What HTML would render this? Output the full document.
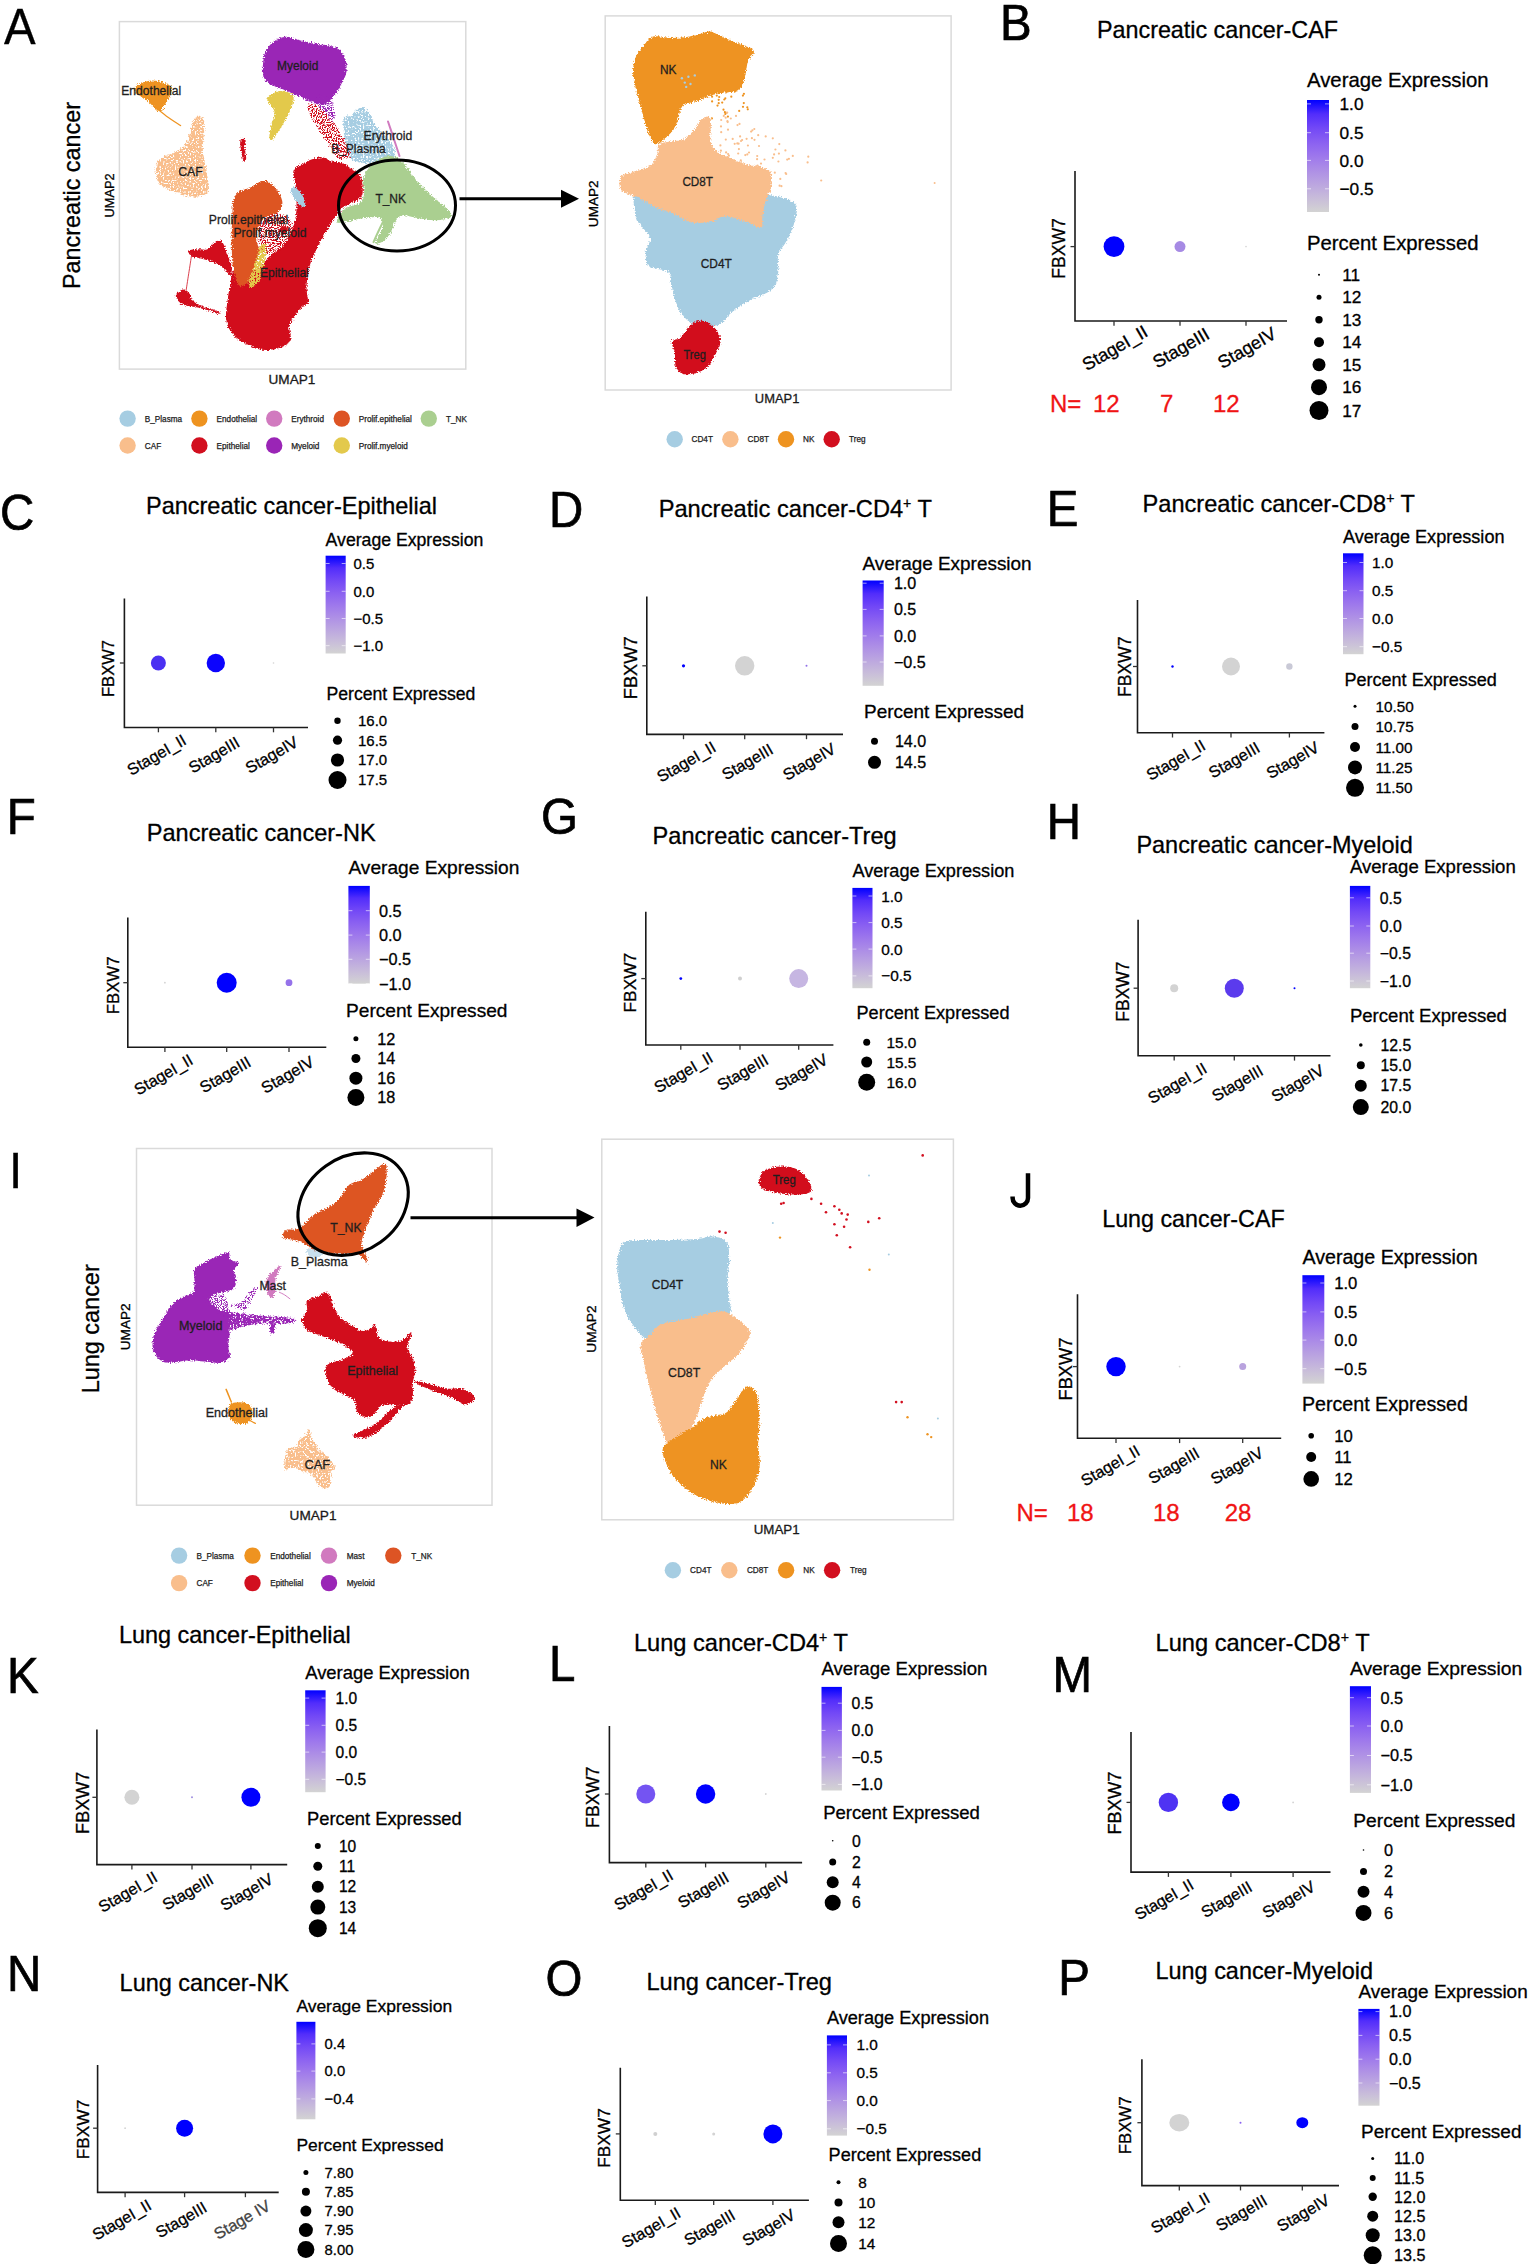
<!DOCTYPE html>
<html><head><meta charset="utf-8"><style>
html,body{margin:0;padding:0;background:#fff;}
svg{display:block;font-family:"Liberation Sans",sans-serif;}
</style></head><body>
<svg width="1530" height="2264" viewBox="0 0 1530 2264">
<defs><filter id="rough" x="-10%" y="-10%" width="120%" height="120%"><feTurbulence type="fractalNoise" baseFrequency="0.7" numOctaves="2" seed="5" result="n"/><feDisplacementMap in="SourceGraphic" in2="n" scale="5" xChannelSelector="R" yChannelSelector="G"/></filter><filter id="speck" x="-10%" y="-10%" width="120%" height="120%"><feTurbulence type="fractalNoise" baseFrequency="0.7" numOctaves="2" seed="5" result="n"/><feDisplacementMap in="SourceGraphic" in2="n" scale="5" xChannelSelector="R" yChannelSelector="G" result="d"/><feTurbulence type="fractalNoise" baseFrequency="0.6" numOctaves="1" seed="9" result="t"/><feColorMatrix in="t" type="matrix" values="0 0 0 0 0 0 0 0 0 0 0 0 0 0 0 0 0 0 -9 5.9" result="m"/><feComposite in="d" in2="m" operator="in"/></filter><filter id="sparse" x="-10%" y="-10%" width="120%" height="120%"><feTurbulence type="fractalNoise" baseFrequency="0.7" numOctaves="2" seed="5" result="n"/><feDisplacementMap in="SourceGraphic" in2="n" scale="5" xChannelSelector="R" yChannelSelector="G" result="d"/><feTurbulence type="fractalNoise" baseFrequency="0.8" numOctaves="1" seed="13" result="t"/><feColorMatrix in="t" type="matrix" values="0 0 0 0 0 0 0 0 0 0 0 0 0 0 0 0 0 0 -12 6.4" result="m"/><feComposite in="d" in2="m" operator="in"/></filter><linearGradient id="grad" x1="0" y1="0" x2="0" y2="1"><stop offset="0.000" stop-color="#0000ff"/><stop offset="0.125" stop-color="#522dfb"/><stop offset="0.250" stop-color="#7248f6"/><stop offset="0.375" stop-color="#8a60f1"/><stop offset="0.500" stop-color="#9d77ec"/><stop offset="0.625" stop-color="#ad8ee6"/><stop offset="0.750" stop-color="#bba5e0"/><stop offset="0.875" stop-color="#c8bcda"/><stop offset="1.000" stop-color="#d3d3d3"/></linearGradient></defs>
<rect width="1530" height="2264" fill="#fff"/>
<rect x="119.4" y="21.6" width="346.4" height="347.5" fill="none" stroke="#dadada" stroke-width="1.5"/>
<path d="M155.9 165.6C156.5 162.1 158 160.5 160.6 158.5C163.1 156.6 167.8 155.4 171.2 153.8C174.5 152.3 177.8 151.5 180.6 149.1C183.3 146.8 185.9 143.2 187.6 139.7C189.4 136.2 190 131.5 191.2 127.9C192.4 124.4 193.1 120.6 194.7 118.5C196.3 116.5 198.9 114.9 200.6 115.7C202.2 116.5 204.1 119.6 204.6 123.2C205.1 126.8 203.9 132.6 203.6 137.4C203.4 142.1 202.7 147.2 202.9 151.5C203.2 155.8 204.5 158.9 205.3 163.2C206.1 167.5 207.1 173 207.6 177.4C208.2 181.7 209.4 186.2 208.8 189.1C208.2 192.1 207.3 193.7 204.1 195C201 196.3 194.7 197.2 190 196.6C185.3 196.1 180.2 193.5 175.9 191.9C171.6 190.4 167.3 189.3 164.1 187.2C161 185.2 158.4 183.3 157.1 179.7C155.7 176.1 155.3 169.1 155.9 165.6Z" fill="#f9be8c" filter="url(#speck)" />
<path d="M134.7 87.9C135.6 86.4 137.6 84.5 140.6 83.2C143.5 82 148.4 80.5 152.4 80.4C156.3 80.3 160.9 81.5 164.1 82.8C167.3 84 170.8 85.5 171.6 87.9C172.5 90.4 170.5 94.5 169.3 97.4C168.1 100.2 166 102.5 164.6 104.9C163.1 107.2 162.2 111 160.6 111.5C158.9 112 156.9 109.7 154.7 107.9C152.5 106.2 150 102.8 147.6 100.9C145.3 98.9 142.6 97.5 140.6 96.2C138.5 94.8 136.4 94 135.4 92.6C134.4 91.3 133.8 89.5 134.7 87.9Z" fill="#ee9320" filter="url(#rough)" />
<path d="M154.7 106.8C156.7 108.3 162.2 113 166.5 116.2C170.8 119.3 178.2 124 180.6 125.6" fill="none" stroke="#ee9320" stroke-width="1.2" stroke-linecap="round"/>
<path d="M262.9 65.4C263.2 60.9 263.9 55.1 265.8 51.1C267.7 47 271.1 43.4 274.4 41C277.8 38.6 282.1 36.9 285.9 36.7C289.8 36.5 293.1 38.5 297.4 39.6C301.8 40.6 306.8 42.2 311.8 43.2C316.9 44.1 323.1 44.2 327.6 45.3C332.2 46.4 336.1 47.2 339.1 49.6C342.1 52 344.4 55.9 345.6 59.7C346.8 63.5 346.9 68.8 346.3 72.6C345.7 76.5 343.7 79.3 342 82.7C340.3 86.1 338.2 89.9 336.3 92.8C334.4 95.6 332.9 98 330.5 100C328.1 101.9 325.2 104 321.9 104.3C318.5 104.5 314.5 102.8 310.4 101.4C306.3 100 301.8 97.6 297.4 95.6C293.1 93.7 288.6 91.6 284.5 89.9C280.4 88.2 276.4 87.5 273 85.6C269.7 83.7 266.1 81.7 264.4 78.4C262.7 75 262.7 70 262.9 65.4Z" fill="#9a25b6" filter="url(#rough)" />
<path d="M317.6 95.6C319.3 93.7 327.6 95.2 330.5 98.5C333.4 101.9 334.8 111.9 334.8 115.8C334.8 119.6 332.9 122.5 330.5 121.5C328.1 120.6 322.6 114.3 320.5 110C318.3 105.7 315.9 97.6 317.6 95.6Z" fill="#9a25b6" filter="url(#sparse)" />
<path d="M267.3 100C267.3 96.8 271.8 94.2 274.4 92.8C277.1 91.3 280 90.8 283.1 91.3C286.2 91.8 291.7 93 293.1 95.6C294.6 98.3 293.1 102.8 291.7 107.1C290.3 111.5 286.9 117.2 284.5 121.5C282.1 125.8 279.5 129.9 277.3 133C275.2 136.1 272.9 139.7 271.6 140.2C270.2 140.7 269.4 138.5 269.4 135.9C269.4 133.3 270.7 128.5 271.6 124.4C272.4 120.3 275.2 115.5 274.4 111.5C273.7 107.4 267.3 103.1 267.3 100Z" fill="#e3c94c" filter="url(#rough)" />
<path d="M343.5 118.6C344.4 114.6 347.8 117.7 350.6 115.8C353.5 113.9 357.6 107.6 360.7 107.1C363.8 106.7 366.9 110 369.3 112.9C371.7 115.8 372.7 120.8 375.1 124.4C377.5 128 380.8 131.1 383.7 134.5C386.6 137.8 390.4 140.9 392.3 144.5C394.3 148.1 396.2 153.2 395.2 156C394.3 158.9 390.4 160.6 386.6 161.8C382.8 163 377.2 163.2 372.2 163.2C367.2 163.2 360.5 163.2 356.4 161.8C352.3 160.3 349.7 158.2 347.8 154.6C345.9 151 345.6 146.2 344.9 140.2C344.2 134.2 342.5 122.7 343.5 118.6Z" fill="#a6cde2" filter="url(#speck)" />
<path d="M388 121.5C389 124.4 391.9 133 393.8 138.8C395.7 144.5 398.6 153.2 399.5 156" fill="none" stroke="#d17abf" stroke-width="2" stroke-linecap="round"/>
<path d="M336.4 221.6C336.7 219.2 341.5 211.5 345.3 208.4C349.1 205.4 356.3 205.7 359.4 203.2C362.5 200.8 363.5 197.7 364.1 193.8C364.7 189.9 362.2 184 362.9 179.7C363.7 175.4 365.9 171.5 368.8 167.9C371.8 164.4 376.7 160.5 380.6 158.5C384.5 156.6 388.4 155.3 392.4 156.2C396.3 157 400.2 159.8 404.1 163.7C408 167.6 411.2 174.3 415.9 179.7C420.6 185.1 426.9 191.1 432.4 196.2C437.8 201.3 445.8 206.8 448.8 210.3C451.8 213.8 452.6 215.7 450.2 217.4C447.9 219 440.4 220.1 434.7 220.2C429 220.3 421.4 218.6 415.9 217.8C410.4 217 405.3 214.7 401.8 215.5C398.2 216.3 396.7 219.5 394.7 222.5C392.7 225.6 392 230.7 390 233.8C388 237 385.4 239.9 382.9 241.4C380.5 242.8 375.4 245.2 375.4 242.8C375.4 240.3 382.2 230.9 382.9 226.8C383.7 222.6 382.5 219.4 380.1 217.8C377.8 216.3 373.1 217 368.8 217.4C364.6 217.7 359 218.8 354.7 219.7C350.4 220.6 346 222.2 342.9 222.5C339.9 222.8 336 223.9 336.4 221.6Z" fill="#aacf90" filter="url(#rough)" />
<path d="M373.5 242.1C374.7 239.5 378.2 231.7 380.6 226.8C382.9 221.9 386.5 215 387.6 212.6" fill="none" stroke="#aacf90" stroke-width="2" stroke-linecap="round"/>
<path d="M307.5 104.3C309 102.8 315.2 104.7 319 107.1C322.8 109.5 326.7 113.9 330.5 118.6C334.4 123.4 339.1 131.1 342 135.9C344.9 140.7 346.3 144 347.8 147.4C349.2 150.8 352.1 154.1 350.6 156C349.2 157.9 342.5 160.3 339.1 158.9C335.8 157.5 333.9 152.2 330.5 147.4C327.2 142.6 322.4 135.4 319 130.1C315.7 124.9 312.3 120.1 310.4 115.8C308.5 111.5 306.1 105.7 307.5 104.3Z" fill="#d20f1f" filter="url(#sparse)" />
<path d="M293.7 170.2C295.1 166.8 300.4 164.9 303.7 163C307.1 161.1 310.7 159.7 313.8 158.7C316.9 157.7 319.3 156.8 322.4 157.3C325.5 157.7 329.1 160.6 332.5 161.6C335.8 162.5 339.4 161.8 342.5 163C345.7 164.2 348.3 166.8 351.2 168.8C354 170.7 357.9 171.6 359.8 174.5C361.7 177.4 362.4 182.2 362.7 186C362.9 189.8 363.1 194.6 361.2 197.5C359.3 200.4 354.3 201.6 351.2 203.3C348 204.9 344.9 205.7 342.5 207.6C340.1 209.5 338.7 212.1 336.8 214.8C334.9 217.4 333 220.3 331 223.4C329.1 226.5 327.2 230.1 325.3 233.5C323.4 236.8 321.4 239.9 319.5 243.5C317.6 247.1 315.5 251.2 313.8 255C312.1 258.9 310.5 262.7 309.5 266.5C308.4 270.4 307.8 274.2 307.3 278C306.8 281.9 306.5 285.5 306.6 289.5C306.7 293.6 308.7 299.6 308 302.5C307.3 305.3 304.7 304.4 302.3 306.8C299.9 309.2 295.8 313.5 293.7 316.9C291.5 320.2 289.8 323.3 289.3 326.9C288.9 330.5 291.5 335.3 290.8 338.4C290.1 341.5 288.4 343.7 285 345.6C281.7 347.5 275.4 349.4 270.6 349.9C265.9 350.4 261.1 349.9 256.3 348.5C251.5 347 246 343.9 241.9 341.3C237.8 338.7 234.5 336.3 231.8 332.7C229.2 329.1 226.8 325 226.1 319.7C225.4 314.5 226.8 307 227.5 301C228.2 295 229.2 289.1 230.4 283.8C231.6 278.5 230.4 271.8 234.7 269.4C239 267 250.3 271.8 256.3 269.4C262.3 267 265.9 259.3 270.6 255C275.4 250.7 281 249.3 285 243.5C289.1 237.8 293.2 228.2 295.1 220.5C297 212.8 296.5 203.7 296.5 197.5C296.5 191.3 295.6 187.7 295.1 183.1C294.6 178.6 292.2 173.5 293.7 170.2Z" fill="#d20f1f" filter="url(#rough)" />
<path d="M262 211.9C264.4 208.5 269.2 210.9 273.5 211.9C277.8 212.8 284.8 214.3 287.9 217.6C291 221 293.7 226.7 292.2 232C290.8 237.3 284.3 245.9 279.3 249.3C274.2 252.6 265.4 255 262 252.1C258.7 249.3 259.1 238.7 259.1 232C259.1 225.3 259.6 215.2 262 211.9Z" fill="#d20f1f" filter="url(#sparse)" />
<path d="M188.7 250.7C189.9 249.5 195.6 249.5 198.8 249.3C201.9 249 204.3 250.7 207.4 249.3C210.5 247.8 214.8 241.6 217.4 240.6C220.1 239.7 221.5 241.1 223.2 243.5C224.9 245.9 226.1 251.2 227.5 255C229 258.9 231.3 263.2 231.8 266.5C232.3 269.9 231.6 274.7 230.4 275.2C229.2 275.6 226.8 271.3 224.6 269.4C222.5 267.5 220.1 265.1 217.4 263.7C214.8 262.2 211.9 261.7 208.8 260.8C205.7 259.8 201.6 258.6 198.8 257.9C195.9 257.2 193.2 257.7 191.6 256.5C189.9 255.3 187.5 251.9 188.7 250.7Z" fill="#d20f1f" filter="url(#rough)" />
<path d="M191.6 255C191.1 258.1 189.7 267.5 188.7 273.7C187.7 279.9 186.3 289.3 185.8 292.4" fill="none" stroke="#d20f1f" stroke-width="0.8" stroke-linecap="round"/>
<path d="M175.8 295.3C176 292.9 180.8 290 182.9 289.5C185.1 289.1 187 290.5 188.7 292.4C190.4 294.3 190.4 298.6 193 301C195.6 303.4 200.4 305.1 204.5 306.8C208.6 308.5 215.1 309.9 217.4 311.1C219.8 312.3 220.8 314.2 218.9 314C217 313.7 210.3 310.9 205.9 309.7C201.6 308.5 197.1 307.7 193 306.8C188.9 305.8 184.4 305.8 181.5 303.9C178.6 302 175.5 297.7 175.8 295.3Z" fill="#d20f1f" filter="url(#rough)" />
<path d="M240.5 140C241.2 138.1 244.8 138.6 245.5 140C246.2 141.4 244.6 145.5 244.8 148.6C244.9 151.7 246.4 156.8 246.2 158.7C246 160.6 244.2 161.3 243.3 160.1C242.5 158.9 241.7 154.9 241.2 151.5C240.7 148.1 239.7 141.9 240.5 140Z" fill="#d20f1f" filter="url(#rough)" />
<path d="M233.3 200.4C234.3 197 236.1 193.9 239 191.8C241.9 189.6 247.2 189.1 250.5 187.4C253.9 185.8 256.3 182.7 259.1 181.7C262 180.7 264.9 180.5 267.8 181.7C270.6 182.9 274 185.8 276.4 188.9C278.8 192 281.4 197 282.1 200.4C282.9 203.7 282.1 206.6 280.7 209C279.3 211.4 276.2 213.3 273.5 214.8C270.9 216.2 267.3 215.7 264.9 217.6C262.5 219.6 260.6 222.4 259.1 226.3C257.7 230.1 256.3 236.8 256.3 240.6C256.3 244.5 259.1 245.7 259.1 249.3C259.1 252.9 257.7 257.7 256.3 262.2C254.8 266.8 252.2 273 250.5 276.6C248.8 280.2 248.1 282.3 246.2 283.8C244.3 285.2 241.2 287.6 239 285.2C236.9 282.8 234.5 275.4 233.3 269.4C232.1 263.4 232.1 256.5 231.8 249.3C231.6 242.1 231.7 232.5 231.8 226.3C231.9 220 232.3 216.2 232.5 211.9C232.8 207.6 232.2 203.7 233.3 200.4Z" fill="#dd5424" filter="url(#rough)" />
<path d="M247.6 283.8C247.6 280.9 251.7 274.2 253.4 269.4C255.1 264.6 256.5 259.1 257.7 255C258.9 251 259.1 246.4 260.6 245C262 243.5 265.6 243.5 266.3 246.4C267.1 249.3 265.9 256.9 264.9 262.2C263.9 267.5 262.5 274 260.6 278C258.7 282.1 255.5 285.7 253.4 286.7C251.2 287.6 247.6 286.7 247.6 283.8Z" fill="#e3c94c" filter="url(#speck)" />
<path d="M279.3 229.1C279.8 227.9 283.6 226 285 226.3C286.5 226.5 288.4 229.4 287.9 230.6C287.4 231.8 283.6 233.7 282.1 233.5C280.7 233.2 278.8 230.3 279.3 229.1Z" fill="#d20f1f" filter="url(#rough)" />
<path d="M290.8 190.3C291.3 188.6 294.4 186.2 296.5 187.4C298.7 188.6 302.3 194.4 303.7 197.5C305.2 200.6 305.6 204.7 305.2 206.1C304.7 207.6 302.8 207.6 300.8 206.1C298.9 204.7 295.3 200.1 293.7 197.5C292 194.9 290.3 192 290.8 190.3Z" fill="#a6cde2" filter="url(#rough)" />
<text x="277.1" y="70.3" font-size="12.5" fill="#1e1e1e" textLength="41.2" lengthAdjust="spacingAndGlyphs" stroke="#1e1e1e" stroke-width="0.3">Myeloid</text>
<text x="121.3" y="95" font-size="12.5" fill="#1e1e1e" textLength="59.8" lengthAdjust="spacingAndGlyphs" stroke="#1e1e1e" stroke-width="0.3">Endothelial</text>
<text x="363.6" y="139.7" font-size="12.5" fill="#1e1e1e" textLength="48.7" lengthAdjust="spacingAndGlyphs" stroke="#1e1e1e" stroke-width="0.3">Erythroid</text>
<text x="331.2" y="152.6" font-size="12.5" fill="#1e1e1e" textLength="54.6" lengthAdjust="spacingAndGlyphs" stroke="#1e1e1e" stroke-width="0.3">B_Plasma</text>
<text x="178.2" y="175.7" font-size="12.5" fill="#1e1e1e" textLength="24.7" lengthAdjust="spacingAndGlyphs" stroke="#1e1e1e" stroke-width="0.3">CAF</text>
<text x="375.4" y="203.2" font-size="12.5" fill="#1e1e1e" textLength="30.6" lengthAdjust="spacingAndGlyphs" stroke="#1e1e1e" stroke-width="0.3">T_NK</text>
<text x="208.8" y="224.4" font-size="12.5" fill="#1e1e1e" textLength="79.3" lengthAdjust="spacingAndGlyphs" stroke="#1e1e1e" stroke-width="0.3">Prolif.epithelial</text>
<text x="233.5" y="237.4" font-size="12.5" fill="#1e1e1e" textLength="72.9" lengthAdjust="spacingAndGlyphs" stroke="#1e1e1e" stroke-width="0.3">Prolif.myeloid</text>
<text x="259.9" y="276.9" font-size="12.5" fill="#1e1e1e" textLength="48.9" lengthAdjust="spacingAndGlyphs" stroke="#1e1e1e" stroke-width="0.3">Epithelial</text>
<ellipse cx="397" cy="205.5" rx="58.5" ry="45.5" fill="none" stroke="#000" stroke-width="3"/>
<path d="M459.5 198.8H563" stroke="#000" stroke-width="3"/><path d="M561 189.8L579 198.8L561 207.8Z" fill="#000"/>
<text transform="translate(79.5 195.5) rotate(-90)" text-anchor="middle" font-size="23.4" fill="#000" textLength="187" lengthAdjust="spacingAndGlyphs" stroke="#000" stroke-width="0.3">Pancreatic cancer</text>
<text transform="translate(113.9 195.4) rotate(-90)" text-anchor="middle" font-size="13" fill="#000" textLength="44" lengthAdjust="spacingAndGlyphs" stroke="#000" stroke-width="0.3">UMAP2</text>
<text x="268.5" y="384" font-size="13.6" fill="#1a1a1a" textLength="46.9" lengthAdjust="spacingAndGlyphs" stroke="#1a1a1a" stroke-width="0.3">UMAP1</text>
<text transform="translate(4 44.2) scale(0.95 1)" font-size="50" fill="#000" stroke="#000" stroke-width="0.3">A</text>
<circle cx="127.6" cy="418.6" r="8.2" fill="#a6cde2"/><text x="144.8" y="421.6" font-size="8.2" fill="#222" stroke="#222" stroke-width="0.25">B_Plasma</text><circle cx="199.4" cy="418.6" r="8.2" fill="#ee9320"/><text x="216.6" y="421.6" font-size="8.2" fill="#222" stroke="#222" stroke-width="0.25">Endothelial</text><circle cx="274.2" cy="418.6" r="8.2" fill="#d17abf"/><text x="291.2" y="421.6" font-size="8.2" fill="#222" stroke="#222" stroke-width="0.25">Erythroid</text><circle cx="341.8" cy="418.6" r="8.2" fill="#dd5424"/><text x="358.7" y="421.6" font-size="8.2" fill="#222" stroke="#222" stroke-width="0.25">Prolif.epithelial</text><circle cx="428.8" cy="418.6" r="8.2" fill="#aacf90"/><text x="446" y="421.6" font-size="8.2" fill="#222" stroke="#222" stroke-width="0.25">T_NK</text><circle cx="127.6" cy="445.5" r="8.2" fill="#f9be8c"/><text x="144.8" y="448.5" font-size="8.2" fill="#222" stroke="#222" stroke-width="0.25">CAF</text><circle cx="199.4" cy="445.5" r="8.2" fill="#d20f1f"/><text x="216.6" y="448.5" font-size="8.2" fill="#222" stroke="#222" stroke-width="0.25">Epithelial</text><circle cx="274.2" cy="445.5" r="8.2" fill="#9a25b6"/><text x="291.2" y="448.5" font-size="8.2" fill="#222" stroke="#222" stroke-width="0.25">Myeloid</text><circle cx="341.8" cy="445.5" r="8.2" fill="#e3c94c"/><text x="358.7" y="448.5" font-size="8.2" fill="#222" stroke="#222" stroke-width="0.25">Prolif.myeloid</text>
<rect x="605.2" y="15.9" width="345.9" height="374.1" fill="none" stroke="#dadada" stroke-width="1.5"/>
<circle cx="738.9" cy="149.1" r="1.1" fill="#f9be8c"/><circle cx="728.9" cy="176.9" r="1.1" fill="#f9be8c"/><circle cx="788.9" cy="158.8" r="1.1" fill="#f9be8c"/><circle cx="720.9" cy="150.7" r="1.1" fill="#f9be8c"/><circle cx="739.5" cy="123.9" r="1.1" fill="#f9be8c"/><circle cx="761.9" cy="180.4" r="1.1" fill="#f9be8c"/><circle cx="821.2" cy="180.5" r="1.1" fill="#f9be8c"/><circle cx="741.6" cy="186.3" r="1.1" fill="#f9be8c"/><circle cx="786.2" cy="174" r="1.1" fill="#f9be8c"/><circle cx="738.2" cy="153.5" r="1.1" fill="#f9be8c"/><circle cx="739.6" cy="169.7" r="1.1" fill="#f9be8c"/><circle cx="754.3" cy="129" r="1.1" fill="#f9be8c"/><circle cx="728.9" cy="155.7" r="1.1" fill="#f9be8c"/><circle cx="723.4" cy="191.2" r="1.1" fill="#f9be8c"/><circle cx="749.1" cy="187" r="1.1" fill="#f9be8c"/><circle cx="721" cy="126.4" r="1.1" fill="#f9be8c"/><circle cx="725.7" cy="117.7" r="1.1" fill="#f9be8c"/><circle cx="792.8" cy="155.9" r="1.1" fill="#f9be8c"/><circle cx="766.1" cy="179.6" r="1.1" fill="#f9be8c"/><circle cx="737.3" cy="143.4" r="1.1" fill="#f9be8c"/><circle cx="742.1" cy="140" r="1.1" fill="#f9be8c"/><circle cx="722.6" cy="182.8" r="1.1" fill="#f9be8c"/><circle cx="756.1" cy="166.4" r="1.1" fill="#f9be8c"/><circle cx="722.3" cy="176.9" r="1.1" fill="#f9be8c"/><circle cx="772.8" cy="157.8" r="1.1" fill="#f9be8c"/><circle cx="747.9" cy="145.5" r="1.1" fill="#f9be8c"/><circle cx="743.5" cy="165.5" r="1.1" fill="#f9be8c"/><circle cx="757.1" cy="159.2" r="1.1" fill="#f9be8c"/><circle cx="765.7" cy="136.4" r="1.1" fill="#f9be8c"/><circle cx="732.7" cy="138.9" r="1.1" fill="#f9be8c"/><circle cx="721.2" cy="120" r="1.1" fill="#f9be8c"/><circle cx="774.1" cy="154.4" r="1.1" fill="#f9be8c"/><circle cx="725.9" cy="190.2" r="1.1" fill="#f9be8c"/><circle cx="720.7" cy="166.8" r="1.1" fill="#f9be8c"/><circle cx="738.6" cy="143.7" r="1.1" fill="#f9be8c"/><circle cx="787.2" cy="159.6" r="1.1" fill="#f9be8c"/><circle cx="721.7" cy="158.8" r="1.1" fill="#f9be8c"/><circle cx="746.6" cy="138.8" r="1.1" fill="#f9be8c"/><circle cx="740.1" cy="136.4" r="1.1" fill="#f9be8c"/><circle cx="746" cy="185.9" r="1.1" fill="#f9be8c"/><circle cx="727.4" cy="157.1" r="1.1" fill="#f9be8c"/><circle cx="724.1" cy="188.2" r="1.1" fill="#f9be8c"/><circle cx="723.8" cy="115.9" r="1.1" fill="#f9be8c"/><circle cx="727.1" cy="185.9" r="1.1" fill="#f9be8c"/><circle cx="764.5" cy="159.5" r="1.1" fill="#f9be8c"/><circle cx="759" cy="146" r="1.1" fill="#f9be8c"/><circle cx="727.2" cy="112.5" r="1.1" fill="#f9be8c"/><circle cx="785.6" cy="173.1" r="1.1" fill="#f9be8c"/><circle cx="729.6" cy="183.1" r="1.1" fill="#f9be8c"/><circle cx="728.1" cy="154" r="1.1" fill="#f9be8c"/><circle cx="727.4" cy="121.2" r="1.1" fill="#f9be8c"/><circle cx="728" cy="129.7" r="1.1" fill="#f9be8c"/><circle cx="757.3" cy="169.1" r="1.1" fill="#f9be8c"/><circle cx="731.8" cy="167.6" r="1.1" fill="#f9be8c"/><circle cx="765.9" cy="176.3" r="1.1" fill="#f9be8c"/><circle cx="758.2" cy="135.2" r="1.1" fill="#f9be8c"/><circle cx="726.1" cy="152.4" r="1.1" fill="#f9be8c"/><circle cx="734.6" cy="171" r="1.1" fill="#f9be8c"/><circle cx="774.8" cy="172.7" r="1.1" fill="#f9be8c"/><circle cx="741" cy="141" r="1.1" fill="#f9be8c"/><circle cx="731.5" cy="161.8" r="1.1" fill="#f9be8c"/><circle cx="781.4" cy="186.2" r="1.1" fill="#f9be8c"/><circle cx="730.8" cy="118.5" r="1.1" fill="#f9be8c"/><circle cx="744.3" cy="168.3" r="1.1" fill="#f9be8c"/><circle cx="737.6" cy="172.1" r="1.1" fill="#f9be8c"/><circle cx="775.4" cy="149.5" r="1.1" fill="#f9be8c"/><circle cx="720.4" cy="145.4" r="1.1" fill="#f9be8c"/><circle cx="736" cy="115.9" r="1.1" fill="#f9be8c"/><circle cx="746.9" cy="182.5" r="1.1" fill="#f9be8c"/><circle cx="719.4" cy="178" r="1.1" fill="#f9be8c"/><circle cx="763.6" cy="186.9" r="1.1" fill="#f9be8c"/><circle cx="752.4" cy="130.3" r="1.1" fill="#f9be8c"/><circle cx="757.5" cy="165.5" r="1.1" fill="#f9be8c"/><circle cx="807.6" cy="162.4" r="1.1" fill="#f9be8c"/><circle cx="759.4" cy="167.6" r="1.1" fill="#f9be8c"/><circle cx="779.3" cy="144.1" r="1.1" fill="#f9be8c"/><circle cx="761" cy="163.6" r="1.1" fill="#f9be8c"/><circle cx="740.5" cy="169.6" r="1.1" fill="#f9be8c"/><circle cx="754.6" cy="178.5" r="1.1" fill="#f9be8c"/><circle cx="808.3" cy="156.7" r="1.1" fill="#f9be8c"/><circle cx="754.5" cy="139.8" r="1.1" fill="#f9be8c"/><circle cx="721.2" cy="132.2" r="1.1" fill="#f9be8c"/><circle cx="745.3" cy="155.1" r="1.1" fill="#f9be8c"/><circle cx="754.3" cy="188.1" r="1.1" fill="#f9be8c"/><circle cx="733.7" cy="185.8" r="1.1" fill="#f9be8c"/><circle cx="778.9" cy="153.6" r="1.1" fill="#f9be8c"/><circle cx="750" cy="185.1" r="1.1" fill="#f9be8c"/><circle cx="780.3" cy="178.9" r="1.1" fill="#f9be8c"/><circle cx="747.3" cy="154.4" r="1.1" fill="#f9be8c"/><circle cx="734.7" cy="190.9" r="1.1" fill="#f9be8c"/><circle cx="726.7" cy="112.9" r="1.1" fill="#f9be8c"/><circle cx="772.8" cy="138.3" r="1.1" fill="#f9be8c"/><circle cx="751.9" cy="138.2" r="1.1" fill="#f9be8c"/><circle cx="779.6" cy="185.7" r="1.1" fill="#f9be8c"/><circle cx="751.1" cy="131.6" r="1.1" fill="#f9be8c"/><circle cx="757.2" cy="156" r="1.1" fill="#f9be8c"/><circle cx="722.6" cy="185.2" r="1.1" fill="#f9be8c"/><circle cx="740.8" cy="160.4" r="1.1" fill="#f9be8c"/><circle cx="727.7" cy="122.1" r="1.1" fill="#f9be8c"/><circle cx="724.1" cy="157.3" r="1.1" fill="#f9be8c"/><circle cx="746" cy="176.3" r="1.1" fill="#f9be8c"/><circle cx="749.6" cy="171.9" r="1.1" fill="#f9be8c"/><circle cx="749" cy="152.5" r="1.1" fill="#f9be8c"/><circle cx="768.4" cy="171.4" r="1.1" fill="#f9be8c"/><circle cx="778.4" cy="161.5" r="1.1" fill="#f9be8c"/><circle cx="747.3" cy="175.9" r="1.1" fill="#f9be8c"/><circle cx="785.4" cy="150.4" r="1.1" fill="#f9be8c"/><circle cx="737.5" cy="125.1" r="1.1" fill="#f9be8c"/><circle cx="725.8" cy="139.6" r="1.1" fill="#f9be8c"/><circle cx="734.7" cy="143.8" r="1.1" fill="#f9be8c"/>
<circle cx="712.1" cy="96.7" r="1.1" fill="#ee9320"/><circle cx="743.9" cy="93.8" r="1.1" fill="#ee9320"/><circle cx="725.3" cy="98.3" r="1.1" fill="#ee9320"/><circle cx="726.5" cy="92" r="1.1" fill="#ee9320"/><circle cx="711.9" cy="118.4" r="1.1" fill="#ee9320"/><circle cx="739.2" cy="110.9" r="1.1" fill="#ee9320"/><circle cx="719.2" cy="97" r="1.1" fill="#ee9320"/><circle cx="731.3" cy="96.7" r="1.1" fill="#ee9320"/><circle cx="727.9" cy="116.6" r="1.1" fill="#ee9320"/><circle cx="724.3" cy="99.5" r="1.1" fill="#ee9320"/><circle cx="747.3" cy="107.3" r="1.1" fill="#ee9320"/><circle cx="712.1" cy="101.4" r="1.1" fill="#ee9320"/><circle cx="734.9" cy="91.4" r="1.1" fill="#ee9320"/><circle cx="723.5" cy="109.7" r="1.1" fill="#ee9320"/><circle cx="743" cy="106.8" r="1.1" fill="#ee9320"/><circle cx="743.8" cy="103.1" r="1.1" fill="#ee9320"/><circle cx="725.3" cy="114" r="1.1" fill="#ee9320"/><circle cx="724.9" cy="112.2" r="1.1" fill="#ee9320"/><circle cx="718.7" cy="99.8" r="1.1" fill="#ee9320"/><circle cx="717.5" cy="105.6" r="1.1" fill="#ee9320"/><circle cx="716.8" cy="95.6" r="1.1" fill="#ee9320"/><circle cx="718.7" cy="103.2" r="1.1" fill="#ee9320"/><circle cx="722.2" cy="102.6" r="1.1" fill="#ee9320"/><circle cx="747.8" cy="109.3" r="1.1" fill="#ee9320"/><circle cx="742.9" cy="95.6" r="1.1" fill="#ee9320"/>
<path d="M635.8 191.4C640.4 186.6 649 188.5 663.1 188.5C677.3 188.5 703.9 190.4 720.6 191.4C737.4 192.3 752.3 192.8 763.8 194.2C775.3 195.7 784.2 197.6 789.7 200C795.2 202.4 796.4 203.8 796.9 208.6C797.3 213.4 794.5 223 792.5 228.8C790.6 234.5 787.7 238.8 785.3 243.1C783 247.4 779.4 249.8 778.2 254.6C777 259.4 779.1 266.1 778.2 271.9C777.2 277.6 777.2 284.4 772.4 289.1C767.6 293.9 756.1 296.8 749.4 300.6C742.7 304.5 736.9 308.3 732.1 312.1C727.4 316 725 321.3 720.6 323.7C716.3 326 711.1 326.5 706.3 326.5C701.5 326.5 696.2 326 691.9 323.7C687.6 321.3 683.3 316.5 680.4 312.1C677.5 307.8 676.3 303 674.6 297.8C673 292.5 671.3 284.8 670.3 280.5C669.4 276.2 672.5 274.3 668.9 271.9C665.3 269.5 652.6 269.7 648.8 266.1C644.9 262.5 645.6 254.9 645.9 250.3C646.1 245.8 650.9 242.9 650.2 238.8C649.5 234.7 644 229.5 641.6 225.9C639.2 222.3 636.8 223 635.8 217.3C634.9 211.5 631.3 196.2 635.8 191.4Z" fill="#a6cde2" filter="url(#rough)" />
<path d="M620.1 178.9C620.5 176.3 621.3 176 624.4 174.6C627.5 173.2 634.2 172 638.8 170.3C643.3 168.6 648.6 167.4 651.7 164.5C654.8 161.7 656.2 156.4 657.4 153C658.6 149.7 656.7 146.3 658.9 144.4C661 142.5 666.1 142.5 670.4 141.5C674.7 140.6 680.5 141 684.8 138.7C689.1 136.3 693.4 130.5 696.3 127.1C699.1 123.8 699.6 120 702 118.5C704.4 117.1 709.2 114.7 710.6 118.5C712.1 122.4 709.2 135.8 710.6 141.5C712.1 147.3 715.7 150.2 719.3 153C722.9 155.9 727.7 156.9 732.2 158.8C736.8 160.7 741.6 163.1 746.6 164.5C751.6 166 758.3 166 762.4 167.4C766.5 168.8 769.6 169.8 771 173.2C772.5 176.5 772 182.7 771 187.5C770.1 192.3 766.7 197.1 765.3 201.9C763.8 206.7 763.1 212 762.4 216.3C761.7 220.6 763.6 226.8 761 227.8C758.3 228.8 752.6 224 746.6 222C740.6 220.1 731 216.3 725 216.3C719 216.3 716.4 221.1 710.6 222C704.9 223 696.7 223.5 690.5 222C684.3 220.6 679.5 216.1 673.3 213.4C667 210.8 658.9 208.9 653.1 206.2C647.4 203.6 644 200.2 638.8 197.6C633.5 195 624.6 193.5 621.5 190.4C618.4 187.3 619.6 181.5 620.1 178.9Z" fill="#f9be8c" filter="url(#rough)" />
<path d="M633 72.5C632.8 66.3 634.2 61 635.9 56.7C637.6 52.4 640.2 50 643.1 46.6C645.9 43.3 648.1 38 653.1 36.6C658.2 35.1 667 38 673.3 38C679.5 38 685.2 37.5 690.5 36.6C695.8 35.6 701.1 33 704.9 32.3C708.7 31.5 710.2 31.3 713.5 32.3C716.9 33.2 720.7 36.1 725 38C729.3 39.9 734.6 41.6 739.4 43.8C744.2 45.9 752.3 48.1 753.8 50.9C755.2 53.8 749.5 56.9 748 61C746.6 65.1 746.6 70.6 745.2 75.4C743.7 80.2 742.8 86.9 739.4 89.8C736 92.6 729.8 91.7 725 92.6C720.2 93.6 715.4 94.1 710.6 95.5C705.9 97 700.6 99.8 696.3 101.3C692 102.7 687.4 102.7 684.8 104.1C682.1 105.6 681.7 107 680.5 109.9C679.3 112.8 678.8 118 677.6 121.4C676.4 124.8 675.4 127.1 673.3 130C671.1 132.9 667.5 136.3 664.6 138.7C661.8 141 658.6 145.1 656 144.4C653.4 143.7 651 139.1 648.8 134.3C646.7 129.5 645 122.4 643.1 115.6C641.2 108.9 639 101.3 637.3 94.1C635.6 86.9 633.2 78.7 633 72.5Z" fill="#ee9320" filter="url(#rough)" />
<circle cx="681.9" cy="78.3" r="1.2" fill="#a6cde2"/><circle cx="684.8" cy="82.6" r="1.2" fill="#a6cde2"/><circle cx="688.4" cy="76.8" r="1.2" fill="#a6cde2"/><circle cx="690.5" cy="84" r="1.2" fill="#a6cde2"/><circle cx="694.8" cy="75.4" r="1.2" fill="#a6cde2"/><circle cx="686.2" cy="86.9" r="1.2" fill="#a6cde2"/>
<path d="M671.8 340.9C672.7 338.5 677.5 340.4 680.4 338C683.3 335.6 685.7 329.4 689 326.5C692.4 323.7 696.4 320.8 700.5 320.8C704.6 320.8 710.1 323.2 713.5 326.5C716.8 329.9 720.4 336.1 720.6 340.9C720.9 345.7 716.8 351.2 714.9 355.3C713 359.4 712 362.5 709.1 365.3C706.3 368.2 702 371.1 697.6 372.5C693.3 374 686.9 374.9 683.3 374C679.7 373 677.5 370.4 676.1 366.8C674.6 363.2 675.4 356.7 674.6 352.4C673.9 348.1 670.8 343.3 671.8 340.9Z" fill="#d20f1f" filter="url(#rough)" />
<circle cx="934.6" cy="182.9" r="1.0" fill="#f9be8c"/>
<text x="660" y="74" font-size="12.5" fill="#1e1e1e" textLength="16.5" lengthAdjust="spacingAndGlyphs" stroke="#1e1e1e" stroke-width="0.3">NK</text>
<text x="682.4" y="186" font-size="12.5" fill="#1e1e1e" textLength="30.6" lengthAdjust="spacingAndGlyphs" stroke="#1e1e1e" stroke-width="0.3">CD8T</text>
<text x="700.7" y="267.6" font-size="12.5" fill="#1e1e1e" textLength="31.1" lengthAdjust="spacingAndGlyphs" stroke="#1e1e1e" stroke-width="0.3">CD4T</text>
<text x="683.5" y="358.9" font-size="12.5" fill="#1e1e1e" textLength="22.4" lengthAdjust="spacingAndGlyphs" stroke="#1e1e1e" stroke-width="0.3">Treg</text>
<text transform="translate(598.1 203.8) rotate(-90)" text-anchor="middle" font-size="13" fill="#000" textLength="46.7" lengthAdjust="spacingAndGlyphs" stroke="#000" stroke-width="0.3">UMAP2</text>
<text x="754.8" y="403.3" font-size="13.6" fill="#1a1a1a" textLength="44.6" lengthAdjust="spacingAndGlyphs" stroke="#1a1a1a" stroke-width="0.3">UMAP1</text>
<circle cx="674.7" cy="439.3" r="8.2" fill="#a6cde2"/><text x="691.5" y="442.3" font-size="8.2" fill="#222" stroke="#222" stroke-width="0.25">CD4T</text><circle cx="730.4" cy="439.3" r="8.2" fill="#f9be8c"/><text x="747.6" y="442.3" font-size="8.2" fill="#222" stroke="#222" stroke-width="0.25">CD8T</text><circle cx="786" cy="439.3" r="8.2" fill="#ee9320"/><text x="803" y="442.3" font-size="8.2" fill="#222" stroke="#222" stroke-width="0.25">NK</text><circle cx="831.7" cy="439.3" r="8.2" fill="#d20f1f"/><text x="849" y="442.3" font-size="8.2" fill="#222" stroke="#222" stroke-width="0.25">Treg</text>
<rect x="136.5" y="1148.5" width="355.5" height="356.7" fill="none" stroke="#dadada" stroke-width="1.5"/>
<path d="M283.1 1234.1C283.5 1232.7 283.8 1230.8 286.3 1229.9C288.7 1229.1 294.3 1230.3 297.8 1228.9C301.3 1227.5 304.2 1224.2 307.2 1221.6C310.2 1219 312.2 1215.5 315.6 1213.2C318.9 1210.9 323.2 1210.2 327.1 1208C330.9 1205.7 334.9 1203.4 338.6 1199.6C342.2 1195.8 345.2 1188.3 349 1185C352.9 1181.7 357.7 1181.8 361.6 1179.7C365.4 1177.6 368.7 1174.9 372 1172.4C375.3 1170 379.3 1166.5 381.4 1165.1C383.5 1163.7 383.7 1163.7 384.6 1164.1C385.4 1164.4 386.5 1163.9 386.7 1167.2C386.8 1170.5 386.7 1178.7 385.6 1183.9C384.6 1189.2 382.3 1194.4 380.4 1198.6C378.5 1202.7 376 1205.2 374.1 1209C372.2 1212.9 370.6 1217.4 368.9 1221.6C367.1 1225.8 364.9 1230.3 363.7 1234.1C362.4 1238 361.2 1241.1 361.6 1244.6C361.9 1248.1 364.7 1251.9 365.8 1255C366.8 1258.2 368.9 1263.4 367.8 1263.4C366.8 1263.4 361.9 1256.6 359.5 1255C357 1253.5 356 1254.2 353.2 1254C350.4 1253.8 347.1 1254.2 342.7 1254C338.4 1253.8 331.9 1253.6 327.1 1252.9C322.2 1252.2 316.9 1251.2 313.5 1249.8C310 1248.4 309.1 1246.1 306.1 1244.6C303.2 1243 299.3 1241.4 295.7 1240.4C292 1239.3 286.3 1239.3 284.2 1238.3C282.1 1237.3 282.8 1235.5 283.1 1234.1Z" fill="#dd5424" filter="url(#rough)" />
<path d="M306.1 1249.8C306.8 1248.6 311.9 1248.2 314.5 1248.8C317.1 1249.3 321 1251.5 321.8 1252.9C322.7 1254.3 321.7 1256.6 319.7 1257.1C317.8 1257.6 312.6 1257.3 310.3 1256.1C308.1 1254.9 305.4 1251 306.1 1249.8Z" fill="#a6cde2" filter="url(#rough)" opacity="0.6"/>
<path d="M152.6 1343.3C152.8 1339.8 153.5 1335.6 155.2 1331.5C157 1327.4 160.5 1322.8 163.1 1318.4C165.7 1314.1 167.9 1308.8 170.9 1305.4C174 1301.9 177.7 1299.7 181.4 1297.5C185.1 1295.3 191 1295.3 193.1 1292.3C195.3 1289.2 194.2 1283.1 194.4 1279.2C194.7 1275.3 192.7 1271.6 194.4 1268.8C196.2 1265.9 201.4 1264.2 204.9 1262.2C208.4 1260.3 211.4 1258.6 215.4 1257C219.3 1255.4 226 1252 228.4 1252.4C230.8 1252.9 228 1257.9 229.7 1259.6C231.5 1261.4 238.2 1261.1 238.9 1262.9C239.5 1264.6 234.1 1267.3 233.7 1270.1C233.2 1272.8 236.3 1276.2 236.3 1279.2C236.3 1282.3 235.8 1286.2 233.7 1288.4C231.5 1290.5 226.7 1291.2 223.2 1292.3C219.7 1293.4 215.1 1293.6 212.7 1294.9C210.3 1296.2 208 1297.7 208.8 1300.1C209.7 1302.5 214.7 1307.1 218 1309.3C221.2 1311.5 226.5 1309.5 228.4 1313.2C230.4 1316.9 229.7 1325.8 229.7 1331.5C229.7 1337.2 228.4 1342.8 228.4 1347.2C228.4 1351.5 231 1355 229.7 1357.6C228.4 1360.3 224.7 1362.2 220.6 1362.9C216.4 1363.5 210.1 1362 204.9 1361.6C199.7 1361.1 195.1 1360 189.2 1360.3C183.3 1360.5 174.4 1362.9 169.6 1362.9C164.8 1362.9 163.1 1362 160.5 1360.3C157.8 1358.5 155.2 1355.3 153.9 1352.4C152.6 1349.6 152.4 1346.8 152.6 1343.3Z" fill="#9a25b6" filter="url(#rough)" />
<path d="M223.2 1313.2C224.9 1310.6 235.2 1312.8 241.5 1313.2C247.8 1313.6 254.6 1315.2 261.1 1315.8C267.6 1316.5 275.3 1316.7 280.7 1317.1C286.2 1317.6 291.6 1317.6 293.8 1318.4C296 1319.3 296 1321.5 293.8 1322.4C291.6 1323.2 286.2 1323.4 280.7 1323.7C275.3 1323.9 267.2 1323.2 261.1 1323.7C255 1324.1 249.1 1325.4 244.1 1326.3C239.1 1327.1 234.5 1331.1 231 1328.9C227.6 1326.7 221.5 1315.8 223.2 1313.2Z" fill="#9a25b6" filter="url(#speck)" />
<path d="M270.3 1323.7C271 1322.1 274.8 1323.7 275.5 1325C276.1 1326.3 274.9 1330 274.2 1331.5C273.4 1333 271.6 1335.4 270.9 1334.1C270.3 1332.8 269.5 1325.2 270.3 1323.7Z" fill="#9a25b6" filter="url(#rough)" />
<path d="M202.3 1297.5C202.9 1295.8 208 1295.3 211.4 1294.9C214.9 1294.5 220.4 1293.2 223.2 1294.9C226 1296.6 227.6 1301.9 228.4 1305.4C229.3 1308.8 230.2 1314.5 228.4 1315.8C226.7 1317.1 221.5 1314.9 218 1313.2C214.5 1311.5 210.1 1308 207.5 1305.4C204.9 1302.7 201.6 1299.3 202.3 1297.5Z" fill="#9a25b6" filter="url(#sparse)" />
<path d="M231 1305.4C230.6 1304.1 238.5 1303.6 241.5 1301.4C244.6 1299.3 247.2 1294.5 249.3 1292.3C251.5 1290.1 253.3 1288.8 254.6 1288.4C255.9 1287.9 257.6 1287.9 257.2 1289.7C256.8 1291.4 254.1 1295.6 252 1298.8C249.8 1302.1 247.6 1308.2 244.1 1309.3C240.6 1310.4 231.5 1306.7 231 1305.4Z" fill="#9a25b6" filter="url(#sparse)" />
<path d="M266.3 1279.2C267.5 1276.8 270.5 1273.6 272.9 1271.4C275.3 1269.2 280.3 1264.8 280.7 1266.1C281.2 1267.5 276.4 1274.9 275.5 1279.2C274.6 1283.6 276.1 1289.2 275.5 1292.3C274.8 1295.3 272.9 1297.3 271.6 1297.5C270.3 1297.7 268.6 1295.6 267.6 1293.6C266.7 1291.6 265.9 1288.1 265.7 1285.8C265.5 1283.4 265.1 1281.6 266.3 1279.2Z" fill="#d17abf" filter="url(#rough)" />
<path d="M279.4 1292.3C280.3 1292.7 282.9 1293.8 284.6 1294.9C286.4 1296 289 1298.2 289.9 1298.8" fill="none" stroke="#d17abf" stroke-width="1" stroke-linecap="round"/>
<path d="M301.8 1320.5C301.8 1317.3 306.1 1313.3 307 1310.1C307.9 1306.8 305.5 1303.1 307 1300.9C308.5 1298.7 312.7 1298.3 316.1 1297C319.6 1295.7 325.1 1291.5 327.9 1293.1C330.7 1294.6 331.2 1302.2 333.1 1306.1C335.1 1310.1 336.8 1313.6 339.7 1316.6C342.5 1319.7 346.2 1322 350.1 1324.4C354.1 1326.8 359.5 1330.5 363.2 1331C366.9 1331.4 370.4 1328.1 372.4 1327.1C374.3 1326 373.9 1322.7 375 1324.4C376.1 1326.2 376.5 1334.7 378.9 1337.5C381.3 1340.3 385.4 1341 389.3 1341.4C393.3 1341.9 398.7 1341.7 402.4 1340.1C406.1 1338.6 410.7 1331 411.6 1332.3C412.4 1333.6 407.4 1343.6 407.6 1348C407.9 1352.3 411.6 1354.5 412.9 1358.4C414.2 1362.4 415.5 1367.6 415.5 1371.5C415.5 1375.4 413.3 1378 412.9 1382C412.4 1385.9 413.3 1391.5 412.9 1395C412.4 1398.5 412.2 1401.1 410.3 1402.9C408.3 1404.6 404.2 1405.3 401.1 1405.5C398.1 1405.7 395.2 1404.2 392 1404.2C388.7 1404.2 384.1 1404.2 381.5 1405.5C378.9 1406.8 378.5 1410.1 376.3 1412C374.1 1414 371.5 1417 368.4 1417.3C365.4 1417.5 360.4 1416.2 358 1413.3C355.6 1410.5 356.2 1403.3 354.1 1400.3C351.9 1397.2 348.4 1397 344.9 1395C341.4 1393.1 336.2 1391.3 333.1 1388.5C330.1 1385.7 327.9 1381.3 326.6 1378C325.3 1374.8 324.9 1371.3 325.3 1368.9C325.7 1366.5 325.9 1365.4 329.2 1363.7C332.5 1361.9 341 1360.2 344.9 1358.4C348.8 1356.7 352.7 1355.4 352.7 1353.2C352.7 1351 348.2 1347.5 344.9 1345.4C341.6 1343.2 337.5 1341.9 333.1 1340.1C328.8 1338.4 323.1 1336.6 318.8 1334.9C314.4 1333.2 309.8 1332.1 307 1329.7C304.2 1327.3 301.8 1323.8 301.8 1320.5Z" fill="#d20f1f" filter="url(#rough)" />
<path d="M415.5 1380.7C417 1380.4 422 1382 427.3 1383.3C432.5 1384.6 441.4 1387.6 446.9 1388.5C452.3 1389.4 455.6 1387.6 459.9 1388.5C464.3 1389.4 470.6 1391.8 473 1393.7C475.4 1395.7 475.6 1398.5 474.3 1400.3C473 1402 469.1 1404.6 465.2 1404.2C461.2 1403.7 456 1399.8 450.8 1397.6C445.6 1395.5 439.2 1393.3 433.8 1391.1C428.3 1388.9 421.2 1386.3 418.1 1384.6C415.1 1382.8 414 1380.9 415.5 1380.7Z" fill="#d20f1f" filter="url(#rough)" />
<path d="M402.4 1405.5C402.4 1407 397.6 1412.5 394.6 1415.9C391.5 1419.4 387.6 1423.4 384.1 1426.4C380.6 1429.5 377.1 1432.3 373.7 1434.2C370.2 1436.2 366.7 1438 363.2 1438.2C359.7 1438.4 352.7 1436.9 352.7 1435.6C352.7 1434.2 359.7 1432.1 363.2 1430.3C366.7 1428.6 370.2 1427.5 373.7 1425.1C377.1 1422.7 380.6 1419 384.1 1415.9C387.6 1412.9 391.5 1408.5 394.6 1406.8C397.6 1405.1 402.4 1404 402.4 1405.5Z" fill="#d20f1f" filter="url(#rough)" />
<path d="M230.3 1404.1C231.9 1402.6 235 1402.7 237.6 1402.5C240.3 1402.3 243.7 1402.2 246 1403C248.3 1403.8 250.2 1405.3 251.2 1407.2C252.3 1409.1 252.5 1412.2 252.3 1414.5C252.1 1416.8 251.6 1419.2 250.2 1420.8C248.8 1422.4 246.4 1423.6 243.9 1423.9C241.5 1424.3 237.8 1423.7 235.6 1422.9C233.3 1422 231.5 1420.6 230.3 1418.7C229.1 1416.8 228.2 1413.8 228.2 1411.4C228.2 1408.9 228.8 1405.5 230.3 1404.1Z" fill="#ee9320" filter="url(#rough)" />
<path d="M226.1 1389.4C226.6 1390.5 227.9 1393.6 228.8 1395.7C229.6 1397.8 230.9 1400.9 231.4 1402" fill="none" stroke="#ee9320" stroke-width="1.5" stroke-linecap="round"/>
<path d="M249.2 1419.7C249.7 1420.1 251.2 1421.2 252.3 1421.8C253.3 1422.4 254.9 1423.1 255.4 1423.4" fill="none" stroke="#ee9320" stroke-width="1.2" stroke-linecap="round"/>
<path d="M284.7 1468.9C283.3 1466.4 285.1 1456.7 285.8 1453.2C286.4 1449.7 287.1 1449 288.9 1448C290.6 1446.9 294.3 1448.5 296.2 1446.9C298.1 1445.4 299 1440.5 300.4 1438.6C301.8 1436.6 303.2 1437 304.6 1435.4C306 1433.9 307.7 1429.3 308.8 1429.2C309.8 1429 309.8 1431.9 310.8 1434.4C311.9 1436.8 313.5 1441 315 1443.8C316.6 1446.6 318.7 1449.5 320.3 1451.1C321.8 1452.7 322.4 1451.3 324.4 1453.2C326.5 1455.1 331.1 1460 332.8 1462.6C334.6 1465.2 335.3 1467.3 334.9 1468.9C334.6 1470.5 331.2 1470.1 330.7 1472C330.2 1473.9 331.9 1478 331.8 1480.4C331.6 1482.8 331.1 1485.3 329.7 1486.7C328.3 1488.1 325.3 1489.1 323.4 1488.8C321.5 1488.4 320.3 1487 318.2 1484.6C316.1 1482.1 313.3 1476.2 310.8 1474.1C308.4 1472 306.3 1473.1 303.5 1472C300.7 1471 297.3 1468.4 294.1 1467.8C291 1467.3 286.1 1471.3 284.7 1468.9Z" fill="#f9be8c" filter="url(#speck)" />
<text x="330.2" y="1231.9" font-size="12.5" fill="#1e1e1e" textLength="31.4" lengthAdjust="spacingAndGlyphs" stroke="#1e1e1e" stroke-width="0.3">T_NK</text>
<text x="290.8" y="1265.8" font-size="12.5" fill="#1e1e1e" textLength="56.8" lengthAdjust="spacingAndGlyphs" stroke="#1e1e1e" stroke-width="0.3">B_Plasma</text>
<text x="259.4" y="1289.9" font-size="12.5" fill="#1e1e1e" textLength="26.6" lengthAdjust="spacingAndGlyphs" stroke="#1e1e1e" stroke-width="0.3">Mast</text>
<text x="179.1" y="1329.8" font-size="12.5" fill="#1e1e1e" textLength="43.3" lengthAdjust="spacingAndGlyphs" stroke="#1e1e1e" stroke-width="0.3">Myeloid</text>
<text x="347.2" y="1375.1" font-size="12.5" fill="#1e1e1e" textLength="50.8" lengthAdjust="spacingAndGlyphs" stroke="#1e1e1e" stroke-width="0.3">Epithelial</text>
<text x="205.7" y="1416.9" font-size="12.5" fill="#1e1e1e" textLength="62.2" lengthAdjust="spacingAndGlyphs" stroke="#1e1e1e" stroke-width="0.3">Endothelial</text>
<text x="304.6" y="1468.9" font-size="12.5" fill="#1e1e1e" textLength="25.6" lengthAdjust="spacingAndGlyphs" stroke="#1e1e1e" stroke-width="0.3">CAF</text>
<ellipse cx="353.1" cy="1204.1" rx="58.8" ry="46.9" transform="rotate(-35.6 353.1 1204.1)" fill="none" stroke="#000" stroke-width="3.1"/>
<path d="M410.5 1217.7H578" stroke="#000" stroke-width="3"/><path d="M576.5 1208.4L594.5 1217.6L576.5 1227Z" fill="#000"/>
<text transform="translate(98.6 1328.8) rotate(-90)" text-anchor="middle" font-size="23.4" fill="#000" textLength="129" lengthAdjust="spacingAndGlyphs" stroke="#000" stroke-width="0.3">Lung cancer</text>
<text transform="translate(129.8 1326.8) rotate(-90)" text-anchor="middle" font-size="13" fill="#000" textLength="46.9" lengthAdjust="spacingAndGlyphs" stroke="#000" stroke-width="0.3">UMAP2</text>
<text x="289.6" y="1520.2" font-size="13.6" fill="#1a1a1a" textLength="46.9" lengthAdjust="spacingAndGlyphs" stroke="#1a1a1a" stroke-width="0.3">UMAP1</text>
<text transform="translate(9 1187.8) scale(0.95 1)" font-size="50" fill="#000" stroke="#000" stroke-width="0.3">I</text>
<circle cx="179.1" cy="1555.6" r="8.2" fill="#a6cde2"/><text x="196.5" y="1558.6" font-size="8.2" fill="#222" stroke="#222" stroke-width="0.25">B_Plasma</text><circle cx="252.5" cy="1555.6" r="8.2" fill="#ee9320"/><text x="270.2" y="1558.6" font-size="8.2" fill="#222" stroke="#222" stroke-width="0.25">Endothelial</text><circle cx="329" cy="1555.6" r="8.2" fill="#d17abf"/><text x="346.7" y="1558.6" font-size="8.2" fill="#222" stroke="#222" stroke-width="0.25">Mast</text><circle cx="393.3" cy="1555.6" r="8.2" fill="#dd5424"/><text x="411.3" y="1558.6" font-size="8.2" fill="#222" stroke="#222" stroke-width="0.25">T_NK</text><circle cx="179.1" cy="1583.1" r="8.2" fill="#f9be8c"/><text x="196.5" y="1586.1" font-size="8.2" fill="#222" stroke="#222" stroke-width="0.25">CAF</text><circle cx="252.5" cy="1583.1" r="8.2" fill="#d20f1f"/><text x="270.2" y="1586.1" font-size="8.2" fill="#222" stroke="#222" stroke-width="0.25">Epithelial</text><circle cx="329" cy="1583.1" r="8.2" fill="#9a25b6"/><text x="346.7" y="1586.1" font-size="8.2" fill="#222" stroke="#222" stroke-width="0.25">Myeloid</text>
<rect x="601.8" y="1139.2" width="351.6" height="380.6" fill="none" stroke="#dadada" stroke-width="1.5"/>
<path d="M617.2 1269.1C617 1262.6 617.7 1255.6 619.2 1250.9C620.7 1246.3 621.6 1243.1 626.4 1241.2C631.3 1239.4 640.1 1240.2 648.2 1240C656.3 1239.8 666.3 1240.2 674.8 1240C683.3 1239.8 692.5 1239.4 699 1238.8C705.4 1238.2 708.9 1235.8 713.5 1236.4C718.1 1237 724.2 1238.4 726.8 1242.5C729.4 1246.5 729.1 1254.3 729.2 1260.6C729.3 1266.8 727.5 1273.5 727.5 1279.9C727.5 1286.4 728.9 1293.6 729.2 1299.3C729.5 1304.9 732.6 1309.8 729.2 1313.8C725.8 1317.8 715.7 1320.2 708.7 1323.5C701.6 1326.7 694.2 1329.9 686.9 1333.1C679.6 1336.4 671.6 1341.6 665.1 1342.8C658.7 1344 653.4 1343.2 648.2 1340.4C643 1337.6 637.7 1331.1 633.7 1325.9C629.7 1320.6 626.2 1315 624 1309C621.8 1302.9 621.5 1296.3 620.4 1289.6C619.3 1283 617.5 1275.5 617.2 1269.1Z" fill="#a6cde2" filter="url(#rough)" />
<path d="M640.7 1345C641.7 1340.9 645.9 1338.6 649.4 1335.1C653 1331.6 655.8 1326.6 662 1324C668.2 1321.3 677.4 1321.2 686.7 1319.1C695.9 1317.1 710.4 1312.5 717.6 1311.6C724.8 1310.8 724.8 1311.1 729.9 1314C735.1 1316.9 745.7 1324.6 748.6 1329C751.5 1333.4 749.2 1336.1 747.4 1340.4C745.5 1344.7 742.1 1350.1 737.7 1354.9C733.3 1359.7 725.6 1364.6 720.8 1369.4C715.9 1374.3 711.9 1378.3 708.7 1383.9C705.4 1389.6 703.8 1396.8 701.4 1403.3C699 1409.7 697 1417 694.2 1422.6C691.3 1428.3 688.5 1433.1 684.5 1437.1C680.4 1441.2 674 1448.8 670 1446.8C665.9 1444.8 663.1 1432.7 660.3 1425C657.5 1417.4 655.3 1408.9 653 1400.9C650.8 1392.8 648.6 1383.5 647 1376.7C645.4 1369.8 644.4 1365 643.4 1359.7C642.3 1354.5 639.7 1349.1 640.7 1345Z" fill="#f9be8c" filter="url(#rough)" />
<path d="M662.7 1449.2C663.7 1445.2 667.6 1443.2 672.4 1439.6C677.2 1435.9 686.1 1431.1 691.7 1427.5C697.4 1423.8 700.6 1420.2 706.2 1417.8C711.9 1415.4 720.8 1415.8 725.6 1413C730.4 1410.1 731.6 1405.3 735.3 1400.9C738.9 1396.4 743.7 1387.4 747.4 1386.3C751 1385.3 755 1389.2 757 1394.8C759 1400.5 759.2 1411.9 759.4 1420.2C759.7 1428.5 758.2 1436.3 758.2 1444.4C758.2 1452.5 760.9 1460.5 759.4 1468.6C758 1476.6 753.8 1486.9 749.8 1492.8C745.7 1498.6 741.7 1502.2 735.3 1503.6C728.8 1505.1 718.3 1503 711.1 1501.2C703.8 1499.4 697.8 1496.6 691.7 1492.8C685.7 1488.9 679 1483.1 674.8 1478.2C670.6 1473.4 668.4 1468.6 666.3 1463.7C664.3 1458.9 661.7 1453.3 662.7 1449.2Z" fill="#ee9320" filter="url(#rough)" />
<path d="M758.7 1183.1C758.5 1180.1 760.6 1174.3 763 1171.6C765.4 1169 769.5 1168.2 773.1 1167.3C776.7 1166.5 780.5 1166.2 784.6 1166.6C788.6 1167 793.9 1167.7 797.5 1169.5C801.1 1171.3 803.7 1174.1 806.1 1177.4C808.5 1180.6 811.7 1186.2 811.9 1188.9C812.1 1191.5 810.5 1192.2 807.6 1193.2C804.7 1194.2 799.4 1194.6 794.6 1194.6C789.8 1194.6 783.9 1194 778.8 1193.2C773.8 1192.4 767.8 1191.3 764.4 1189.6C761.1 1187.9 758.9 1186.1 758.7 1183.1Z" fill="#d20f1f" filter="url(#rough)" />
<circle cx="781.2" cy="1203.8" r="1.3" fill="#d20f1f"/><circle cx="811.4" cy="1198.9" r="1.3" fill="#d20f1f"/><circle cx="821.1" cy="1203.8" r="1.3" fill="#d20f1f"/><circle cx="834.4" cy="1206.2" r="1.3" fill="#d20f1f"/><circle cx="839.3" cy="1209.8" r="1.3" fill="#d20f1f"/><circle cx="847.7" cy="1214.6" r="1.3" fill="#d20f1f"/><circle cx="826" cy="1212.2" r="1.3" fill="#d20f1f"/><circle cx="834.4" cy="1224.3" r="1.3" fill="#d20f1f"/><circle cx="844.1" cy="1226.7" r="1.3" fill="#d20f1f"/><circle cx="836.8" cy="1235.2" r="1.3" fill="#d20f1f"/><circle cx="850.1" cy="1247.3" r="1.3" fill="#d20f1f"/><circle cx="868.3" cy="1221.9" r="1.3" fill="#d20f1f"/><circle cx="879.2" cy="1218.3" r="1.3" fill="#d20f1f"/><circle cx="922.7" cy="1155.4" r="1.3" fill="#d20f1f"/><circle cx="719.5" cy="1231.6" r="1.3" fill="#d20f1f"/><circle cx="725.6" cy="1232.8" r="1.3" fill="#d20f1f"/><circle cx="896.1" cy="1402.1" r="1.3" fill="#d20f1f"/><circle cx="901.7" cy="1402.1" r="1.3" fill="#d20f1f"/><circle cx="783.6" cy="1203" r="1.3" fill="#d20f1f"/><circle cx="841.7" cy="1213.4" r="1.3" fill="#d20f1f"/><circle cx="846.5" cy="1219.5" r="1.3" fill="#d20f1f"/>
<circle cx="780" cy="1237.6" r="1.2" fill="#ee9320"/><circle cx="869.5" cy="1269.8" r="1.2" fill="#ee9320"/><circle cx="907.5" cy="1417.3" r="1.2" fill="#ee9320"/><circle cx="927.5" cy="1434.2" r="1.2" fill="#ee9320"/><circle cx="931.2" cy="1437.1" r="1.2" fill="#ee9320"/>
<circle cx="772.8" cy="1223.1" r="1.0" fill="#a6cde2"/><circle cx="869" cy="1175.5" r="1.0" fill="#a6cde2"/><circle cx="888.8" cy="1254.5" r="1.0" fill="#a6cde2"/><circle cx="937.9" cy="1418.5" r="1.0" fill="#a6cde2"/>
<text x="772.8" y="1184.4" font-size="12.5" fill="#1e1e1e" textLength="23" lengthAdjust="spacingAndGlyphs" stroke="#1e1e1e" stroke-width="0.3">Treg</text>
<text x="651.8" y="1288.9" font-size="12.5" fill="#1e1e1e" textLength="31.4" lengthAdjust="spacingAndGlyphs" stroke="#1e1e1e" stroke-width="0.3">CD4T</text>
<text x="668" y="1376.7" font-size="12.5" fill="#1e1e1e" textLength="32.2" lengthAdjust="spacingAndGlyphs" stroke="#1e1e1e" stroke-width="0.3">CD8T</text>
<text x="709.9" y="1469.3" font-size="12.5" fill="#1e1e1e" textLength="16.9" lengthAdjust="spacingAndGlyphs" stroke="#1e1e1e" stroke-width="0.3">NK</text>
<text transform="translate(595.6 1329.1) rotate(-90)" text-anchor="middle" font-size="13" fill="#000" textLength="47.4" lengthAdjust="spacingAndGlyphs" stroke="#000" stroke-width="0.3">UMAP2</text>
<text x="753.7" y="1534.4" font-size="13.6" fill="#1a1a1a" textLength="46" lengthAdjust="spacingAndGlyphs" stroke="#1a1a1a" stroke-width="0.3">UMAP1</text>
<circle cx="672.9" cy="1570.3" r="8.2" fill="#a6cde2"/><text x="690.1" y="1573.3" font-size="8.2" fill="#222" stroke="#222" stroke-width="0.25">CD4T</text><circle cx="729.3" cy="1570.3" r="8.2" fill="#f9be8c"/><text x="746.9" y="1573.3" font-size="8.2" fill="#222" stroke="#222" stroke-width="0.25">CD8T</text><circle cx="786.1" cy="1570.3" r="8.2" fill="#ee9320"/><text x="803.3" y="1573.3" font-size="8.2" fill="#222" stroke="#222" stroke-width="0.25">NK</text><circle cx="832.1" cy="1570.3" r="8.2" fill="#d20f1f"/><text x="850.1" y="1573.3" font-size="8.2" fill="#222" stroke="#222" stroke-width="0.25">Treg</text>
<text transform="translate(1000 40) scale(0.95 1)" font-size="50" fill="#000" stroke="#000" stroke-width="0.7">B</text>
<text x="1097" y="38" font-size="23.4" fill="#000" textLength="241" lengthAdjust="spacingAndGlyphs" stroke="#000" stroke-width="0.3">Pancreatic cancer-CAF</text>
<path d="M1075 171V321H1287" fill="none" stroke="#1a1a1a" stroke-width="1.6"/>
<path d="M1070.5 246.6H1075" stroke="#333" stroke-width="1.3"/>
<path d="M1114 321v4.8" stroke="#333" stroke-width="1.3"/>
<circle cx="1114" cy="246.6" r="10.4" fill="#0000ff"/>
<path d="M1180 321v4.8" stroke="#333" stroke-width="1.3"/>
<circle cx="1180" cy="246.6" r="5.5" fill="#a68ae4"/>
<path d="M1246 321v4.8" stroke="#333" stroke-width="1.3"/>
<circle cx="1246" cy="246.6" r="0.8" fill="#d3d3d3"/>
<text transform="translate(1064.8 248.4) rotate(-90)" text-anchor="middle" font-size="17.59" fill="#000" textLength="60.6" lengthAdjust="spacingAndGlyphs" stroke="#000" stroke-width="0.3">FBXW7</text>
<text transform="translate(1115 348) rotate(-30)" text-anchor="middle" dominant-baseline="central" font-size="18" fill="#000" stroke="#000" stroke-width="0.3">StageI_II</text>
<text transform="translate(1181 348) rotate(-30)" text-anchor="middle" dominant-baseline="central" font-size="18" fill="#000" stroke="#000" stroke-width="0.3">StageIII</text>
<text transform="translate(1247 348) rotate(-30)" text-anchor="middle" dominant-baseline="central" font-size="18" fill="#000" stroke="#000" stroke-width="0.3">StageIV</text>
<text x="1307" y="87" font-size="20.30" fill="#000" textLength="181.6" lengthAdjust="spacingAndGlyphs" stroke="#000" stroke-width="0.3">Average Expression</text>
<rect x="1307" y="100" width="22" height="112" fill="url(#grad)"/>
<path d="M1307 103.9h4M1325 103.9h4" stroke="#fff" stroke-opacity="0.6" stroke-width="1"/>
<text x="1339.5" y="110.1" font-size="17.26" fill="#000" stroke="#000" stroke-width="0.3">1.0</text>
<path d="M1307 132.7h4M1325 132.7h4" stroke="#fff" stroke-opacity="0.6" stroke-width="1"/>
<text x="1339.5" y="138.9" font-size="17.26" fill="#000" stroke="#000" stroke-width="0.3">0.5</text>
<path d="M1307 160.4h4M1325 160.4h4" stroke="#fff" stroke-opacity="0.6" stroke-width="1"/>
<text x="1339.5" y="166.6" font-size="17.26" fill="#000" stroke="#000" stroke-width="0.3">0.0</text>
<path d="M1307 188.8h4M1325 188.8h4" stroke="#fff" stroke-opacity="0.6" stroke-width="1"/>
<text x="1339.5" y="195" font-size="17.26" fill="#000" stroke="#000" stroke-width="0.3">−0.5</text>
<text x="1307" y="250" font-size="20.30" fill="#000" textLength="171.5" lengthAdjust="spacingAndGlyphs" stroke="#000" stroke-width="0.3">Percent Expressed</text>
<circle cx="1319" cy="274.7" r="1" fill="#000"/>
<text x="1342.2" y="280.9" font-size="17.26" fill="#000" stroke="#000" stroke-width="0.3">11</text>
<circle cx="1319" cy="297.2" r="2.5" fill="#000"/>
<text x="1342.2" y="303.4" font-size="17.26" fill="#000" stroke="#000" stroke-width="0.3">12</text>
<circle cx="1319" cy="319.7" r="3.7" fill="#000"/>
<text x="1342.2" y="325.9" font-size="17.26" fill="#000" stroke="#000" stroke-width="0.3">13</text>
<circle cx="1319" cy="342.2" r="5" fill="#000"/>
<text x="1342.2" y="348.4" font-size="17.26" fill="#000" stroke="#000" stroke-width="0.3">14</text>
<circle cx="1319" cy="364.7" r="6.5" fill="#000"/>
<text x="1342.2" y="370.9" font-size="17.26" fill="#000" stroke="#000" stroke-width="0.3">15</text>
<circle cx="1319" cy="387.2" r="8" fill="#000"/>
<text x="1342.2" y="393.4" font-size="17.26" fill="#000" stroke="#000" stroke-width="0.3">16</text>
<circle cx="1319" cy="410.5" r="9.5" fill="#000"/>
<text x="1342.2" y="416.7" font-size="17.26" fill="#000" stroke="#000" stroke-width="0.3">17</text>
<text x="1050" y="412" font-size="24" fill="#f01414" stroke="#f01414" stroke-width="0.3">N=</text>
<text x="1093" y="412" font-size="24" fill="#f01414" stroke="#f01414" stroke-width="0.3">12</text>
<text x="1160" y="412" font-size="24" fill="#f01414" stroke="#f01414" stroke-width="0.3">7</text>
<text x="1213" y="412" font-size="24" fill="#f01414" stroke="#f01414" stroke-width="0.3">12</text>
<text transform="translate(0 529.5) scale(0.95 1)" font-size="50" fill="#000" stroke="#000" stroke-width="0.7">C</text>
<text x="146" y="513.5" font-size="23.4" fill="#000" textLength="291" lengthAdjust="spacingAndGlyphs" stroke="#000" stroke-width="0.3">Pancreatic cancer-Epithelial</text>
<path d="M124.4 598.5V727.5H308" fill="none" stroke="#1a1a1a" stroke-width="1.6"/>
<path d="M119.9 663H124.4" stroke="#333" stroke-width="1.3"/>
<path d="M158.4 727.5v4.8" stroke="#333" stroke-width="1.3"/>
<circle cx="158.4" cy="663" r="7.5" fill="#4a30f2"/>
<path d="M215.8 727.5v4.8" stroke="#333" stroke-width="1.3"/>
<circle cx="215.8" cy="663" r="9.2" fill="#0c04fd"/>
<path d="M273.5 727.5v4.8" stroke="#333" stroke-width="1.3"/>
<circle cx="273.5" cy="663" r="0.8" fill="#d3d3d3"/>
<text transform="translate(113.9 668.5) rotate(-90)" text-anchor="middle" font-size="16.55" fill="#000" textLength="57" lengthAdjust="spacingAndGlyphs" stroke="#000" stroke-width="0.3">FBXW7</text>
<text transform="translate(156.4 754.5) rotate(-30)" text-anchor="middle" dominant-baseline="central" font-size="16.2" fill="#000" stroke="#000" stroke-width="0.3">StageI_II</text>
<text transform="translate(213.8 754.5) rotate(-30)" text-anchor="middle" dominant-baseline="central" font-size="16.2" fill="#000" stroke="#000" stroke-width="0.3">StageIII</text>
<text transform="translate(271.5 754.5) rotate(-30)" text-anchor="middle" dominant-baseline="central" font-size="16.2" fill="#000" stroke="#000" stroke-width="0.3">StageIV</text>
<text x="325.6" y="545.5" font-size="17.63" fill="#000" textLength="157.7" lengthAdjust="spacingAndGlyphs" stroke="#000" stroke-width="0.3">Average Expression</text>
<rect x="325.6" y="555.7" width="20.1" height="97.8" fill="url(#grad)"/>
<path d="M325.6 563.5h4M341.7 563.5h4" stroke="#fff" stroke-opacity="0.6" stroke-width="1"/>
<text x="353.5" y="568.9" font-size="14.98" fill="#000" stroke="#000" stroke-width="0.3">0.5</text>
<path d="M325.6 591.3h4M341.7 591.3h4" stroke="#fff" stroke-opacity="0.6" stroke-width="1"/>
<text x="353.5" y="596.7" font-size="14.98" fill="#000" stroke="#000" stroke-width="0.3">0.0</text>
<path d="M325.6 618.5h4M341.7 618.5h4" stroke="#fff" stroke-opacity="0.6" stroke-width="1"/>
<text x="353.5" y="623.9" font-size="14.98" fill="#000" stroke="#000" stroke-width="0.3">−0.5</text>
<path d="M325.6 645.7h4M341.7 645.7h4" stroke="#fff" stroke-opacity="0.6" stroke-width="1"/>
<text x="353.5" y="651.1" font-size="14.98" fill="#000" stroke="#000" stroke-width="0.3">−1.0</text>
<text x="326.5" y="700" font-size="17.63" fill="#000" textLength="148.9" lengthAdjust="spacingAndGlyphs" stroke="#000" stroke-width="0.3">Percent Expressed</text>
<circle cx="337.5" cy="720.8" r="3.2" fill="#000"/>
<text x="358" y="726.2" font-size="14.98" fill="#000" stroke="#000" stroke-width="0.3">16.0</text>
<circle cx="337.5" cy="740.2" r="4.6" fill="#000"/>
<text x="358" y="745.6" font-size="14.98" fill="#000" stroke="#000" stroke-width="0.3">16.5</text>
<circle cx="337.5" cy="760" r="6.6" fill="#000"/>
<text x="358" y="765.4" font-size="14.98" fill="#000" stroke="#000" stroke-width="0.3">17.0</text>
<circle cx="337.5" cy="780" r="9" fill="#000"/>
<text x="358" y="785.4" font-size="14.98" fill="#000" stroke="#000" stroke-width="0.3">17.5</text>
<text transform="translate(549 527) scale(0.95 1)" font-size="50" fill="#000" stroke="#000" stroke-width="0.7">D</text>
<text x="658.7" y="516.6" font-size="23.4" fill="#000" textLength="273.3" lengthAdjust="spacingAndGlyphs" stroke="#000" stroke-width="0.3">Pancreatic cancer-CD4<tspan font-size="14" dy="-9">+</tspan><tspan dy="9"> T</tspan></text>
<path d="M646.8 596.4V734.4H843" fill="none" stroke="#1a1a1a" stroke-width="1.6"/>
<path d="M642.3 665.8H646.8" stroke="#333" stroke-width="1.3"/>
<path d="M683.5 734.4v4.8" stroke="#333" stroke-width="1.3"/>
<circle cx="683.5" cy="665.8" r="1.6" fill="#0000ff"/>
<path d="M744.7 734.4v4.8" stroke="#333" stroke-width="1.3"/>
<circle cx="744.7" cy="665.8" r="9.7" fill="#d3d3d3"/>
<path d="M806.5 734.4v4.8" stroke="#333" stroke-width="1.3"/>
<circle cx="806.5" cy="665.8" r="1.0" fill="#9070e8"/>
<text transform="translate(637.3 667.8) rotate(-90)" text-anchor="middle" font-size="18.26" fill="#000" textLength="62.9" lengthAdjust="spacingAndGlyphs" stroke="#000" stroke-width="0.3">FBXW7</text>
<text transform="translate(686 761.4) rotate(-30)" text-anchor="middle" dominant-baseline="central" font-size="16.2" fill="#000" stroke="#000" stroke-width="0.3">StageI_II</text>
<text transform="translate(747.2 761.4) rotate(-30)" text-anchor="middle" dominant-baseline="central" font-size="16.2" fill="#000" stroke="#000" stroke-width="0.3">StageIII</text>
<text transform="translate(809 761.4) rotate(-30)" text-anchor="middle" dominant-baseline="central" font-size="16.2" fill="#000" stroke="#000" stroke-width="0.3">StageIV</text>
<text x="862.6" y="569.6" font-size="18.95" fill="#000" textLength="169" lengthAdjust="spacingAndGlyphs" stroke="#000" stroke-width="0.3">Average Expression</text>
<rect x="862.6" y="580.5" width="21.1" height="105.3" fill="url(#grad)"/>
<path d="M862.6 583.2h4M879.7 583.2h4" stroke="#fff" stroke-opacity="0.6" stroke-width="1"/>
<text x="893.9" y="589" font-size="16.11" fill="#000" stroke="#000" stroke-width="0.3">1.0</text>
<path d="M862.6 609.4h4M879.7 609.4h4" stroke="#fff" stroke-opacity="0.6" stroke-width="1"/>
<text x="893.9" y="615.2" font-size="16.11" fill="#000" stroke="#000" stroke-width="0.3">0.5</text>
<path d="M862.6 635.9h4M879.7 635.9h4" stroke="#fff" stroke-opacity="0.6" stroke-width="1"/>
<text x="893.9" y="641.7" font-size="16.11" fill="#000" stroke="#000" stroke-width="0.3">0.0</text>
<path d="M862.6 662h4M879.7 662h4" stroke="#fff" stroke-opacity="0.6" stroke-width="1"/>
<text x="893.9" y="667.8" font-size="16.11" fill="#000" stroke="#000" stroke-width="0.3">−0.5</text>
<text x="864" y="718" font-size="18.95" fill="#000" textLength="160.1" lengthAdjust="spacingAndGlyphs" stroke="#000" stroke-width="0.3">Percent Expressed</text>
<circle cx="874.5" cy="741.2" r="3.5" fill="#000"/>
<text x="894.9" y="747" font-size="16.11" fill="#000" stroke="#000" stroke-width="0.3">14.0</text>
<circle cx="874.5" cy="762.3" r="6.5" fill="#000"/>
<text x="894.9" y="768.1" font-size="16.11" fill="#000" stroke="#000" stroke-width="0.3">14.5</text>
<text transform="translate(1046.7 526) scale(0.95 1)" font-size="50" fill="#000" stroke="#000" stroke-width="0.7">E</text>
<text x="1142.6" y="511.5" font-size="23.4" fill="#000" textLength="272.4" lengthAdjust="spacingAndGlyphs" stroke="#000" stroke-width="0.3">Pancreatic cancer-CD8<tspan font-size="14" dy="-9">+</tspan><tspan dy="9"> T</tspan></text>
<path d="M1137.5 600V732.7H1324.4" fill="none" stroke="#1a1a1a" stroke-width="1.6"/>
<path d="M1133 666.5H1137.5" stroke="#333" stroke-width="1.3"/>
<path d="M1172.5 732.7v4.8" stroke="#333" stroke-width="1.3"/>
<circle cx="1172.5" cy="666.5" r="1.2" fill="#0000ff"/>
<path d="M1231 732.7v4.8" stroke="#333" stroke-width="1.3"/>
<circle cx="1231" cy="666.5" r="9.0" fill="#d3d3d3"/>
<path d="M1289.4 732.7v4.8" stroke="#333" stroke-width="1.3"/>
<circle cx="1289.4" cy="666.5" r="3.2" fill="#c9c9d6"/>
<text transform="translate(1130.7 666.8) rotate(-90)" text-anchor="middle" font-size="17.56" fill="#000" textLength="60.5" lengthAdjust="spacingAndGlyphs" stroke="#000" stroke-width="0.3">FBXW7</text>
<text transform="translate(1175.5 759.7) rotate(-30)" text-anchor="middle" dominant-baseline="central" font-size="16.2" fill="#000" stroke="#000" stroke-width="0.3">StageI_II</text>
<text transform="translate(1234 759.7) rotate(-30)" text-anchor="middle" dominant-baseline="central" font-size="16.2" fill="#000" stroke="#000" stroke-width="0.3">StageIII</text>
<text transform="translate(1292.4 759.7) rotate(-30)" text-anchor="middle" dominant-baseline="central" font-size="16.2" fill="#000" stroke="#000" stroke-width="0.3">StageIV</text>
<text x="1343" y="543" font-size="18.03" fill="#000" textLength="161.5" lengthAdjust="spacingAndGlyphs" stroke="#000" stroke-width="0.3">Average Expression</text>
<rect x="1343" y="553.3" width="20.5" height="100.9" fill="url(#grad)"/>
<path d="M1343 562.5h4M1359.5 562.5h4" stroke="#fff" stroke-opacity="0.6" stroke-width="1"/>
<text x="1372" y="568" font-size="15.32" fill="#000" stroke="#000" stroke-width="0.3">1.0</text>
<path d="M1343 590.7h4M1359.5 590.7h4" stroke="#fff" stroke-opacity="0.6" stroke-width="1"/>
<text x="1372" y="596.2" font-size="15.32" fill="#000" stroke="#000" stroke-width="0.3">0.5</text>
<path d="M1343 618.5h4M1359.5 618.5h4" stroke="#fff" stroke-opacity="0.6" stroke-width="1"/>
<text x="1372" y="624" font-size="15.32" fill="#000" stroke="#000" stroke-width="0.3">0.0</text>
<path d="M1343 646.7h4M1359.5 646.7h4" stroke="#fff" stroke-opacity="0.6" stroke-width="1"/>
<text x="1372" y="652.2" font-size="15.32" fill="#000" stroke="#000" stroke-width="0.3">−0.5</text>
<text x="1344.5" y="685.8" font-size="18.03" fill="#000" textLength="152.3" lengthAdjust="spacingAndGlyphs" stroke="#000" stroke-width="0.3">Percent Expressed</text>
<circle cx="1355" cy="706.2" r="1.5" fill="#000"/>
<text x="1375.4" y="711.7" font-size="15.32" fill="#000" stroke="#000" stroke-width="0.3">10.50</text>
<circle cx="1355" cy="726.6" r="3.5" fill="#000"/>
<text x="1375.4" y="732.1" font-size="15.32" fill="#000" stroke="#000" stroke-width="0.3">10.75</text>
<circle cx="1355" cy="747" r="5" fill="#000"/>
<text x="1375.4" y="752.5" font-size="15.32" fill="#000" stroke="#000" stroke-width="0.3">11.00</text>
<circle cx="1355" cy="767.4" r="7" fill="#000"/>
<text x="1375.4" y="772.9" font-size="15.32" fill="#000" stroke="#000" stroke-width="0.3">11.25</text>
<circle cx="1355" cy="787.8" r="9" fill="#000"/>
<text x="1375.4" y="793.3" font-size="15.32" fill="#000" stroke="#000" stroke-width="0.3">11.50</text>
<text transform="translate(6.8 833.5) scale(0.95 1)" font-size="50" fill="#000" stroke="#000" stroke-width="0.7">F</text>
<text x="146.8" y="841" font-size="23.4" fill="#000" textLength="228.8" lengthAdjust="spacingAndGlyphs" stroke="#000" stroke-width="0.3">Pancreatic cancer-NK</text>
<path d="M127.8 917.5V1047.3H326.3" fill="none" stroke="#1a1a1a" stroke-width="1.6"/>
<path d="M123.3 982.7H127.8" stroke="#333" stroke-width="1.3"/>
<path d="M164.9 1047.3v4.8" stroke="#333" stroke-width="1.3"/>
<circle cx="164.9" cy="982.7" r="0.9" fill="#d3d3d3"/>
<path d="M226.7 1047.3v4.8" stroke="#333" stroke-width="1.3"/>
<circle cx="226.7" cy="982.7" r="10" fill="#0000ff"/>
<path d="M289 1047.3v4.8" stroke="#333" stroke-width="1.3"/>
<circle cx="289" cy="982.7" r="3.4" fill="#9572ea"/>
<text transform="translate(119 985.4) rotate(-90)" text-anchor="middle" font-size="16.78" fill="#000" textLength="57.8" lengthAdjust="spacingAndGlyphs" stroke="#000" stroke-width="0.3">FBXW7</text>
<text transform="translate(163.2 1074.3) rotate(-30)" text-anchor="middle" dominant-baseline="central" font-size="16.2" fill="#000" stroke="#000" stroke-width="0.3">StageI_II</text>
<text transform="translate(225 1074.3) rotate(-30)" text-anchor="middle" dominant-baseline="central" font-size="16.2" fill="#000" stroke="#000" stroke-width="0.3">StageIII</text>
<text transform="translate(287.3 1074.3) rotate(-30)" text-anchor="middle" dominant-baseline="central" font-size="16.2" fill="#000" stroke="#000" stroke-width="0.3">StageIV</text>
<text x="348.4" y="874.3" font-size="19.12" fill="#000" textLength="171" lengthAdjust="spacingAndGlyphs" stroke="#000" stroke-width="0.3">Average Expression</text>
<rect x="348.4" y="885.9" width="21.4" height="97.8" fill="url(#grad)"/>
<path d="M348.4 910.7h4M365.8 910.7h4" stroke="#fff" stroke-opacity="0.6" stroke-width="1"/>
<text x="379" y="916.5" font-size="16.25" fill="#000" stroke="#000" stroke-width="0.3">0.5</text>
<path d="M348.4 935.1h4M365.8 935.1h4" stroke="#fff" stroke-opacity="0.6" stroke-width="1"/>
<text x="379" y="940.9" font-size="16.25" fill="#000" stroke="#000" stroke-width="0.3">0.0</text>
<path d="M348.4 959.3h4M365.8 959.3h4" stroke="#fff" stroke-opacity="0.6" stroke-width="1"/>
<text x="379" y="965.1" font-size="16.25" fill="#000" stroke="#000" stroke-width="0.3">−0.5</text>
<path d="M348.4 983.7h4M365.8 983.7h4" stroke="#fff" stroke-opacity="0.6" stroke-width="1"/>
<text x="379" y="989.5" font-size="16.25" fill="#000" stroke="#000" stroke-width="0.3">−1.0</text>
<text x="346" y="1017" font-size="19.12" fill="#000" textLength="161.5" lengthAdjust="spacingAndGlyphs" stroke="#000" stroke-width="0.3">Percent Expressed</text>
<circle cx="355.9" cy="1038.8" r="2.5" fill="#000"/>
<text x="377.3" y="1044.6" font-size="16.25" fill="#000" stroke="#000" stroke-width="0.3">12</text>
<circle cx="355.9" cy="1058.5" r="4.5" fill="#000"/>
<text x="377.3" y="1064.3" font-size="16.25" fill="#000" stroke="#000" stroke-width="0.3">14</text>
<circle cx="355.9" cy="1078.2" r="6.5" fill="#000"/>
<text x="377.3" y="1084" font-size="16.25" fill="#000" stroke="#000" stroke-width="0.3">16</text>
<circle cx="355.9" cy="1097.6" r="8.5" fill="#000"/>
<text x="377.3" y="1103.4" font-size="16.25" fill="#000" stroke="#000" stroke-width="0.3">18</text>
<text transform="translate(541 834) scale(0.95 1)" font-size="50" fill="#000" stroke="#000" stroke-width="0.7">G</text>
<text x="652.6" y="843.7" font-size="23.4" fill="#000" textLength="244" lengthAdjust="spacingAndGlyphs" stroke="#000" stroke-width="0.3">Pancreatic cancer-Treg</text>
<path d="M645.8 911.7V1045H833.4" fill="none" stroke="#1a1a1a" stroke-width="1.6"/>
<path d="M641.3 978.6H645.8" stroke="#333" stroke-width="1.3"/>
<path d="M680.8 1045v4.8" stroke="#333" stroke-width="1.3"/>
<circle cx="680.8" cy="978.6" r="1.4" fill="#0000ff"/>
<path d="M740 1045v4.8" stroke="#333" stroke-width="1.3"/>
<circle cx="740" cy="978.6" r="2.0" fill="#cfcfcf"/>
<path d="M798.7 1045v4.8" stroke="#333" stroke-width="1.3"/>
<circle cx="798.7" cy="978.6" r="9.5" fill="#c6b6e2"/>
<text transform="translate(635.6 982.7) rotate(-90)" text-anchor="middle" font-size="17.27" fill="#000" textLength="59.5" lengthAdjust="spacingAndGlyphs" stroke="#000" stroke-width="0.3">FBXW7</text>
<text transform="translate(683.2 1072) rotate(-30)" text-anchor="middle" dominant-baseline="central" font-size="16.2" fill="#000" stroke="#000" stroke-width="0.3">StageI_II</text>
<text transform="translate(742.4 1072) rotate(-30)" text-anchor="middle" dominant-baseline="central" font-size="16.2" fill="#000" stroke="#000" stroke-width="0.3">StageIII</text>
<text transform="translate(801.1 1072) rotate(-30)" text-anchor="middle" dominant-baseline="central" font-size="16.2" fill="#000" stroke="#000" stroke-width="0.3">StageIV</text>
<text x="852.4" y="876.7" font-size="18.11" fill="#000" textLength="162" lengthAdjust="spacingAndGlyphs" stroke="#000" stroke-width="0.3">Average Expression</text>
<rect x="852.4" y="887.9" width="20.1" height="100.3" fill="url(#grad)"/>
<path d="M852.4 896h4M868.5 896h4" stroke="#fff" stroke-opacity="0.6" stroke-width="1"/>
<text x="881.3" y="901.5" font-size="15.39" fill="#000" stroke="#000" stroke-width="0.3">1.0</text>
<path d="M852.4 922.6h4M868.5 922.6h4" stroke="#fff" stroke-opacity="0.6" stroke-width="1"/>
<text x="881.3" y="928.1" font-size="15.39" fill="#000" stroke="#000" stroke-width="0.3">0.5</text>
<path d="M852.4 949.1h4M868.5 949.1h4" stroke="#fff" stroke-opacity="0.6" stroke-width="1"/>
<text x="881.3" y="954.6" font-size="15.39" fill="#000" stroke="#000" stroke-width="0.3">0.0</text>
<path d="M852.4 975.9h4M868.5 975.9h4" stroke="#fff" stroke-opacity="0.6" stroke-width="1"/>
<text x="881.3" y="981.4" font-size="15.39" fill="#000" stroke="#000" stroke-width="0.3">−0.5</text>
<text x="856.5" y="1019.4" font-size="18.11" fill="#000" textLength="153" lengthAdjust="spacingAndGlyphs" stroke="#000" stroke-width="0.3">Percent Expressed</text>
<circle cx="866.7" cy="1042.2" r="3.5" fill="#000"/>
<text x="886.4" y="1047.7" font-size="15.39" fill="#000" stroke="#000" stroke-width="0.3">15.0</text>
<circle cx="866.7" cy="1062" r="5.5" fill="#000"/>
<text x="886.4" y="1067.5" font-size="15.39" fill="#000" stroke="#000" stroke-width="0.3">15.5</text>
<circle cx="866.7" cy="1082.3" r="8.5" fill="#000"/>
<text x="886.4" y="1087.8" font-size="15.39" fill="#000" stroke="#000" stroke-width="0.3">16.0</text>
<text transform="translate(1046.7 838.6) scale(0.95 1)" font-size="50" fill="#000" stroke="#000" stroke-width="0.7">H</text>
<text x="1136.4" y="852.9" font-size="23.4" fill="#000" textLength="276.4" lengthAdjust="spacingAndGlyphs" stroke="#000" stroke-width="0.3">Pancreatic cancer-Myeloid</text>
<path d="M1138.1 919.8V1055.8H1330.5" fill="none" stroke="#1a1a1a" stroke-width="1.6"/>
<path d="M1133.6 988.2H1138.1" stroke="#333" stroke-width="1.3"/>
<path d="M1174.2 1055.8v4.8" stroke="#333" stroke-width="1.3"/>
<circle cx="1174.2" cy="988.2" r="4.0" fill="#d3d3d3"/>
<path d="M1234.3 1055.8v4.8" stroke="#333" stroke-width="1.3"/>
<circle cx="1234.3" cy="988.2" r="9.5" fill="#5b3bed"/>
<path d="M1294.5 1055.8v4.8" stroke="#333" stroke-width="1.3"/>
<circle cx="1294.5" cy="988.2" r="1.0" fill="#0000ff"/>
<text transform="translate(1129 991.6) rotate(-90)" text-anchor="middle" font-size="17.47" fill="#000" textLength="60.2" lengthAdjust="spacingAndGlyphs" stroke="#000" stroke-width="0.3">FBXW7</text>
<text transform="translate(1177.1 1082.8) rotate(-30)" text-anchor="middle" dominant-baseline="central" font-size="16.2" fill="#000" stroke="#000" stroke-width="0.3">StageI_II</text>
<text transform="translate(1237.2 1082.8) rotate(-30)" text-anchor="middle" dominant-baseline="central" font-size="16.2" fill="#000" stroke="#000" stroke-width="0.3">StageIII</text>
<text transform="translate(1297.4 1082.8) rotate(-30)" text-anchor="middle" dominant-baseline="central" font-size="16.2" fill="#000" stroke="#000" stroke-width="0.3">StageIV</text>
<text x="1349.9" y="873.3" font-size="18.58" fill="#000" textLength="165.9" lengthAdjust="spacingAndGlyphs" stroke="#000" stroke-width="0.3">Average Expression</text>
<rect x="1349.9" y="885.9" width="20.4" height="102.3" fill="url(#grad)"/>
<path d="M1349.9 897.8h4M1366.3 897.8h4" stroke="#fff" stroke-opacity="0.6" stroke-width="1"/>
<text x="1379.8" y="903.5" font-size="15.80" fill="#000" stroke="#000" stroke-width="0.3">0.5</text>
<path d="M1349.9 926h4M1366.3 926h4" stroke="#fff" stroke-opacity="0.6" stroke-width="1"/>
<text x="1379.8" y="931.7" font-size="15.80" fill="#000" stroke="#000" stroke-width="0.3">0.0</text>
<path d="M1349.9 953.2h4M1366.3 953.2h4" stroke="#fff" stroke-opacity="0.6" stroke-width="1"/>
<text x="1379.8" y="958.9" font-size="15.80" fill="#000" stroke="#000" stroke-width="0.3">−0.5</text>
<path d="M1349.9 981h4M1366.3 981h4" stroke="#fff" stroke-opacity="0.6" stroke-width="1"/>
<text x="1379.8" y="986.7" font-size="15.80" fill="#000" stroke="#000" stroke-width="0.3">−1.0</text>
<text x="1349.9" y="1021.8" font-size="18.58" fill="#000" textLength="157" lengthAdjust="spacingAndGlyphs" stroke="#000" stroke-width="0.3">Percent Expressed</text>
<circle cx="1360.8" cy="1045" r="1.8" fill="#000"/>
<text x="1380.5" y="1050.7" font-size="15.80" fill="#000" stroke="#000" stroke-width="0.3">12.5</text>
<circle cx="1360.8" cy="1065.3" r="4" fill="#000"/>
<text x="1380.5" y="1071" font-size="15.80" fill="#000" stroke="#000" stroke-width="0.3">15.0</text>
<circle cx="1360.8" cy="1085.7" r="6" fill="#000"/>
<text x="1380.5" y="1091.4" font-size="15.80" fill="#000" stroke="#000" stroke-width="0.3">17.5</text>
<circle cx="1360.8" cy="1107.1" r="8" fill="#000"/>
<text x="1380.5" y="1112.8" font-size="15.80" fill="#000" stroke="#000" stroke-width="0.3">20.0</text>
<path d="M1028 1173.3V1198A7.7 7.7 0 0 1 1012.6 1198V1196.5" fill="none" stroke="#000" stroke-width="4.5"/>
<text x="1102.2" y="1226.5" font-size="23.4" fill="#000" textLength="182.5" lengthAdjust="spacingAndGlyphs" stroke="#000" stroke-width="0.3">Lung cancer-CAF</text>
<path d="M1077.5 1294.3V1438.3H1281.2" fill="none" stroke="#1a1a1a" stroke-width="1.6"/>
<path d="M1073 1366.6H1077.5" stroke="#333" stroke-width="1.3"/>
<path d="M1116 1438.3v4.8" stroke="#333" stroke-width="1.3"/>
<circle cx="1116" cy="1366.6" r="9.7" fill="#0000ff"/>
<path d="M1179.6 1438.3v4.8" stroke="#333" stroke-width="1.3"/>
<circle cx="1179.6" cy="1366.6" r="0.9" fill="#d3d3d3"/>
<path d="M1242.7 1438.3v4.8" stroke="#333" stroke-width="1.3"/>
<circle cx="1242.7" cy="1366.6" r="3.5" fill="#b9a3de"/>
<text transform="translate(1071.9 1369.1) rotate(-90)" text-anchor="middle" font-size="18.23" fill="#000" textLength="62.8" lengthAdjust="spacingAndGlyphs" stroke="#000" stroke-width="0.3">FBXW7</text>
<text transform="translate(1110 1465.3) rotate(-30)" text-anchor="middle" dominant-baseline="central" font-size="16.2" fill="#000" stroke="#000" stroke-width="0.3">StageI_II</text>
<text transform="translate(1173.6 1465.3) rotate(-30)" text-anchor="middle" dominant-baseline="central" font-size="16.2" fill="#000" stroke="#000" stroke-width="0.3">StageIII</text>
<text transform="translate(1236.7 1465.3) rotate(-30)" text-anchor="middle" dominant-baseline="central" font-size="16.2" fill="#000" stroke="#000" stroke-width="0.3">StageIV</text>
<text x="1302.4" y="1263.5" font-size="19.64" fill="#000" textLength="175.4" lengthAdjust="spacingAndGlyphs" stroke="#000" stroke-width="0.3">Average Expression</text>
<rect x="1302.4" y="1275.2" width="21.9" height="108.4" fill="url(#grad)"/>
<path d="M1302.4 1283h4M1320.3 1283h4" stroke="#fff" stroke-opacity="0.6" stroke-width="1"/>
<text x="1334.2" y="1289" font-size="16.69" fill="#000" stroke="#000" stroke-width="0.3">1.0</text>
<path d="M1302.4 1311.9h4M1320.3 1311.9h4" stroke="#fff" stroke-opacity="0.6" stroke-width="1"/>
<text x="1334.2" y="1317.9" font-size="16.69" fill="#000" stroke="#000" stroke-width="0.3">0.5</text>
<path d="M1302.4 1340.1h4M1320.3 1340.1h4" stroke="#fff" stroke-opacity="0.6" stroke-width="1"/>
<text x="1334.2" y="1346.1" font-size="16.69" fill="#000" stroke="#000" stroke-width="0.3">0.0</text>
<path d="M1302.4 1368.7h4M1320.3 1368.7h4" stroke="#fff" stroke-opacity="0.6" stroke-width="1"/>
<text x="1334.2" y="1374.7" font-size="16.69" fill="#000" stroke="#000" stroke-width="0.3">−0.5</text>
<text x="1302" y="1411.1" font-size="19.64" fill="#000" textLength="165.9" lengthAdjust="spacingAndGlyphs" stroke="#000" stroke-width="0.3">Percent Expressed</text>
<circle cx="1311.2" cy="1435.8" r="2.8" fill="#000"/>
<text x="1334.2" y="1441.8" font-size="16.69" fill="#000" stroke="#000" stroke-width="0.3">10</text>
<circle cx="1311.2" cy="1457" r="5" fill="#000"/>
<text x="1334.2" y="1463" font-size="16.69" fill="#000" stroke="#000" stroke-width="0.3">11</text>
<circle cx="1311.2" cy="1478.9" r="7.8" fill="#000"/>
<text x="1334.2" y="1484.9" font-size="16.69" fill="#000" stroke="#000" stroke-width="0.3">12</text>
<text x="1016.5" y="1520.5" font-size="24" fill="#f01414" stroke="#f01414" stroke-width="0.3">N=</text>
<text x="1067" y="1520.5" font-size="24" fill="#f01414" stroke="#f01414" stroke-width="0.3">18</text>
<text x="1153" y="1520.5" font-size="24" fill="#f01414" stroke="#f01414" stroke-width="0.3">18</text>
<text x="1224.7" y="1520.5" font-size="24" fill="#f01414" stroke="#f01414" stroke-width="0.3">28</text>
<text transform="translate(7 1692.7) scale(0.95 1)" font-size="50" fill="#000" stroke="#000" stroke-width="0.7">K</text>
<text x="119" y="1642.7" font-size="23.4" fill="#000" textLength="231.8" lengthAdjust="spacingAndGlyphs" stroke="#000" stroke-width="0.3">Lung cancer-Epithelial</text>
<path d="M96.9 1729.4V1864.6H287.2" fill="none" stroke="#1a1a1a" stroke-width="1.6"/>
<path d="M92.4 1797.3H96.9" stroke="#333" stroke-width="1.3"/>
<path d="M131.9 1864.6v4.8" stroke="#333" stroke-width="1.3"/>
<circle cx="131.9" cy="1797.3" r="7.5" fill="#d3d3d3"/>
<path d="M192 1864.6v4.8" stroke="#333" stroke-width="1.3"/>
<circle cx="192" cy="1797.3" r="1.0" fill="#a090e0"/>
<path d="M250.9 1864.6v4.8" stroke="#333" stroke-width="1.3"/>
<circle cx="250.9" cy="1797.3" r="9.5" fill="#0000ff"/>
<text transform="translate(88.5 1802.8) rotate(-90)" text-anchor="middle" font-size="18.06" fill="#000" textLength="62.2" lengthAdjust="spacingAndGlyphs" stroke="#000" stroke-width="0.3">FBXW7</text>
<text transform="translate(127.5 1891.6) rotate(-30)" text-anchor="middle" dominant-baseline="central" font-size="16.2" fill="#000" stroke="#000" stroke-width="0.3">StageI_II</text>
<text transform="translate(187.6 1891.6) rotate(-30)" text-anchor="middle" dominant-baseline="central" font-size="16.2" fill="#000" stroke="#000" stroke-width="0.3">StageIII</text>
<text transform="translate(246.5 1891.6) rotate(-30)" text-anchor="middle" dominant-baseline="central" font-size="16.2" fill="#000" stroke="#000" stroke-width="0.3">StageIV</text>
<text x="305.2" y="1679" font-size="18.31" fill="#000" textLength="164.5" lengthAdjust="spacingAndGlyphs" stroke="#000" stroke-width="0.3">Average Expression</text>
<rect x="305.2" y="1690.3" width="20.4" height="101.9" fill="url(#grad)"/>
<path d="M305.2 1698.1h4M321.6 1698.1h4" stroke="#fff" stroke-opacity="0.6" stroke-width="1"/>
<text x="335.5" y="1703.7" font-size="15.57" fill="#000" stroke="#000" stroke-width="0.3">1.0</text>
<path d="M305.2 1725.3h4M321.6 1725.3h4" stroke="#fff" stroke-opacity="0.6" stroke-width="1"/>
<text x="335.5" y="1730.9" font-size="15.57" fill="#000" stroke="#000" stroke-width="0.3">0.5</text>
<path d="M305.2 1752.1h4M321.6 1752.1h4" stroke="#fff" stroke-opacity="0.6" stroke-width="1"/>
<text x="335.5" y="1757.7" font-size="15.57" fill="#000" stroke="#000" stroke-width="0.3">0.0</text>
<path d="M305.2 1779.3h4M321.6 1779.3h4" stroke="#fff" stroke-opacity="0.6" stroke-width="1"/>
<text x="335.5" y="1784.9" font-size="15.57" fill="#000" stroke="#000" stroke-width="0.3">−0.5</text>
<text x="307" y="1824.5" font-size="18.31" fill="#000" textLength="154.7" lengthAdjust="spacingAndGlyphs" stroke="#000" stroke-width="0.3">Percent Expressed</text>
<circle cx="317.8" cy="1846" r="3" fill="#000"/>
<text x="338.9" y="1851.6" font-size="15.57" fill="#000" stroke="#000" stroke-width="0.3">10</text>
<circle cx="317.8" cy="1866.3" r="4.5" fill="#000"/>
<text x="338.9" y="1871.9" font-size="15.57" fill="#000" stroke="#000" stroke-width="0.3">11</text>
<circle cx="317.8" cy="1886.7" r="6" fill="#000"/>
<text x="338.9" y="1892.3" font-size="15.57" fill="#000" stroke="#000" stroke-width="0.3">12</text>
<circle cx="317.8" cy="1907.1" r="7.5" fill="#000"/>
<text x="338.9" y="1912.7" font-size="15.57" fill="#000" stroke="#000" stroke-width="0.3">13</text>
<circle cx="317.8" cy="1928.2" r="9" fill="#000"/>
<text x="338.9" y="1933.8" font-size="15.57" fill="#000" stroke="#000" stroke-width="0.3">14</text>
<text transform="translate(548.9 1681.1) scale(0.95 1)" font-size="50" fill="#000" stroke="#000" stroke-width="0.7">L</text>
<text x="633.9" y="1650.5" font-size="23.4" fill="#000" textLength="214.1" lengthAdjust="spacingAndGlyphs" stroke="#000" stroke-width="0.3">Lung cancer-CD4<tspan font-size="14" dy="-9">+</tspan><tspan dy="9"> T</tspan></text>
<path d="M609.4 1726V1862.6H802.1" fill="none" stroke="#1a1a1a" stroke-width="1.6"/>
<path d="M604.9 1794H609.4" stroke="#333" stroke-width="1.3"/>
<path d="M645.8 1862.6v4.8" stroke="#333" stroke-width="1.3"/>
<circle cx="645.8" cy="1794" r="9.5" fill="#7454f2"/>
<path d="M705.6 1862.6v4.8" stroke="#333" stroke-width="1.3"/>
<circle cx="705.6" cy="1794" r="9.7" fill="#0000ff"/>
<path d="M765.8 1862.6v4.8" stroke="#333" stroke-width="1.3"/>
<circle cx="765.8" cy="1794" r="0.9" fill="#d3d3d3"/>
<text transform="translate(598.9 1797.3) rotate(-90)" text-anchor="middle" font-size="17.76" fill="#000" textLength="61.2" lengthAdjust="spacingAndGlyphs" stroke="#000" stroke-width="0.3">FBXW7</text>
<text transform="translate(643.3 1889.6) rotate(-30)" text-anchor="middle" dominant-baseline="central" font-size="16.2" fill="#000" stroke="#000" stroke-width="0.3">StageI_II</text>
<text transform="translate(703.1 1889.6) rotate(-30)" text-anchor="middle" dominant-baseline="central" font-size="16.2" fill="#000" stroke="#000" stroke-width="0.3">StageIII</text>
<text transform="translate(763.3 1889.6) rotate(-30)" text-anchor="middle" dominant-baseline="central" font-size="16.2" fill="#000" stroke="#000" stroke-width="0.3">StageIV</text>
<text x="821.5" y="1675" font-size="18.55" fill="#000" textLength="165.9" lengthAdjust="spacingAndGlyphs" stroke="#000" stroke-width="0.3">Average Expression</text>
<rect x="821.5" y="1686.9" width="20.4" height="103.6" fill="url(#grad)"/>
<path d="M821.5 1703.2h4M837.9 1703.2h4" stroke="#fff" stroke-opacity="0.6" stroke-width="1"/>
<text x="851.4" y="1708.9" font-size="15.77" fill="#000" stroke="#000" stroke-width="0.3">0.5</text>
<path d="M821.5 1730.4h4M837.9 1730.4h4" stroke="#fff" stroke-opacity="0.6" stroke-width="1"/>
<text x="851.4" y="1736.1" font-size="15.77" fill="#000" stroke="#000" stroke-width="0.3">0.0</text>
<path d="M821.5 1757.2h4M837.9 1757.2h4" stroke="#fff" stroke-opacity="0.6" stroke-width="1"/>
<text x="851.4" y="1762.9" font-size="15.77" fill="#000" stroke="#000" stroke-width="0.3">−0.5</text>
<path d="M821.5 1784.4h4M837.9 1784.4h4" stroke="#fff" stroke-opacity="0.6" stroke-width="1"/>
<text x="851.4" y="1790.1" font-size="15.77" fill="#000" stroke="#000" stroke-width="0.3">−1.0</text>
<text x="823.2" y="1818.8" font-size="18.55" fill="#000" textLength="156.7" lengthAdjust="spacingAndGlyphs" stroke="#000" stroke-width="0.3">Percent Expressed</text>
<circle cx="832.7" cy="1840.8" r="0.8" fill="#000"/>
<text x="852.1" y="1846.5" font-size="15.77" fill="#000" stroke="#000" stroke-width="0.3">0</text>
<circle cx="832.7" cy="1861.9" r="3.5" fill="#000"/>
<text x="852.1" y="1867.6" font-size="15.77" fill="#000" stroke="#000" stroke-width="0.3">2</text>
<circle cx="832.7" cy="1882.3" r="6" fill="#000"/>
<text x="852.1" y="1888" font-size="15.77" fill="#000" stroke="#000" stroke-width="0.3">4</text>
<circle cx="832.7" cy="1902.7" r="8" fill="#000"/>
<text x="852.1" y="1908.4" font-size="15.77" fill="#000" stroke="#000" stroke-width="0.3">6</text>
<text transform="translate(1052.5 1692) scale(0.95 1)" font-size="50" fill="#000" stroke="#000" stroke-width="0.7">M</text>
<text x="1155.5" y="1651.2" font-size="23.4" fill="#000" textLength="214.1" lengthAdjust="spacingAndGlyphs" stroke="#000" stroke-width="0.3">Lung cancer-CD8<tspan font-size="14" dy="-9">+</tspan><tspan dy="9"> T</tspan></text>
<path d="M1131 1732.1V1872.1H1330.5" fill="none" stroke="#1a1a1a" stroke-width="1.6"/>
<path d="M1126.5 1802.4H1131" stroke="#333" stroke-width="1.3"/>
<path d="M1168.4 1872.1v4.8" stroke="#333" stroke-width="1.3"/>
<circle cx="1168.4" cy="1802.4" r="9.7" fill="#4f33f3"/>
<path d="M1230.9 1872.1v4.8" stroke="#333" stroke-width="1.3"/>
<circle cx="1230.9" cy="1802.4" r="8.8" fill="#0000ff"/>
<path d="M1293.1 1872.1v4.8" stroke="#333" stroke-width="1.3"/>
<circle cx="1293.1" cy="1802.4" r="0.9" fill="#d3d3d3"/>
<text transform="translate(1121.1 1803.1) rotate(-90)" text-anchor="middle" font-size="18.26" fill="#000" textLength="62.9" lengthAdjust="spacingAndGlyphs" stroke="#000" stroke-width="0.3">FBXW7</text>
<text transform="translate(1163.8 1899.1) rotate(-30)" text-anchor="middle" dominant-baseline="central" font-size="16.2" fill="#000" stroke="#000" stroke-width="0.3">StageI_II</text>
<text transform="translate(1226.3 1899.1) rotate(-30)" text-anchor="middle" dominant-baseline="central" font-size="16.2" fill="#000" stroke="#000" stroke-width="0.3">StageIII</text>
<text transform="translate(1288.5 1899.1) rotate(-30)" text-anchor="middle" dominant-baseline="central" font-size="16.2" fill="#000" stroke="#000" stroke-width="0.3">StageIV</text>
<text x="1349.9" y="1675" font-size="19.19" fill="#000" textLength="172.3" lengthAdjust="spacingAndGlyphs" stroke="#000" stroke-width="0.3">Average Expression</text>
<rect x="1349.9" y="1686.2" width="21.1" height="106.7" fill="url(#grad)"/>
<path d="M1349.9 1697.7h4M1367 1697.7h4" stroke="#fff" stroke-opacity="0.6" stroke-width="1"/>
<text x="1380.5" y="1703.6" font-size="16.31" fill="#000" stroke="#000" stroke-width="0.3">0.5</text>
<path d="M1349.9 1726h4M1367 1726h4" stroke="#fff" stroke-opacity="0.6" stroke-width="1"/>
<text x="1380.5" y="1731.9" font-size="16.31" fill="#000" stroke="#000" stroke-width="0.3">0.0</text>
<path d="M1349.9 1755.5h4M1367 1755.5h4" stroke="#fff" stroke-opacity="0.6" stroke-width="1"/>
<text x="1380.5" y="1761.4" font-size="16.31" fill="#000" stroke="#000" stroke-width="0.3">−0.5</text>
<path d="M1349.9 1784.8h4M1367 1784.8h4" stroke="#fff" stroke-opacity="0.6" stroke-width="1"/>
<text x="1380.5" y="1790.7" font-size="16.31" fill="#000" stroke="#000" stroke-width="0.3">−1.0</text>
<text x="1353.3" y="1827.3" font-size="19.19" fill="#000" textLength="162.1" lengthAdjust="spacingAndGlyphs" stroke="#000" stroke-width="0.3">Percent Expressed</text>
<circle cx="1363.5" cy="1850" r="0.8" fill="#000"/>
<text x="1383.9" y="1855.9" font-size="16.31" fill="#000" stroke="#000" stroke-width="0.3">0</text>
<circle cx="1363.5" cy="1871.4" r="3.5" fill="#000"/>
<text x="1383.9" y="1877.3" font-size="16.31" fill="#000" stroke="#000" stroke-width="0.3">2</text>
<circle cx="1363.5" cy="1891.8" r="6" fill="#000"/>
<text x="1383.9" y="1897.7" font-size="16.31" fill="#000" stroke="#000" stroke-width="0.3">4</text>
<circle cx="1363.5" cy="1912.9" r="8" fill="#000"/>
<text x="1383.9" y="1918.8" font-size="16.31" fill="#000" stroke="#000" stroke-width="0.3">6</text>
<text transform="translate(7 1990.5) scale(0.95 1)" font-size="50" fill="#000" stroke="#000" stroke-width="0.7">N</text>
<text x="119.6" y="1990.5" font-size="23.4" fill="#000" textLength="169.4" lengthAdjust="spacingAndGlyphs" stroke="#000" stroke-width="0.3">Lung cancer-NK</text>
<path d="M97.6 2065V2192.4H278.7" fill="none" stroke="#1a1a1a" stroke-width="1.6"/>
<path d="M93.1 2128.2H97.6" stroke="#333" stroke-width="1.3"/>
<path d="M125.1 2192.4v4.8" stroke="#333" stroke-width="1.3"/>
<circle cx="125.1" cy="2128.2" r="0.9" fill="#d3d3d3"/>
<path d="M184.6 2192.4v4.8" stroke="#333" stroke-width="1.3"/>
<circle cx="184.6" cy="2128.2" r="8.5" fill="#0000ff"/>
<path d="M245.4 2192.4v4.8" stroke="#333" stroke-width="1.3"/>
<text transform="translate(89.1 2129.5) rotate(-90)" text-anchor="middle" font-size="17.27" fill="#000" textLength="59.5" lengthAdjust="spacingAndGlyphs" stroke="#000" stroke-width="0.3">FBXW7</text>
<text transform="translate(121.5 2219.4) rotate(-30)" text-anchor="middle" dominant-baseline="central" font-size="16.2" fill="#000" stroke="#000" stroke-width="0.3">StageI_II</text>
<text transform="translate(181 2219.4) rotate(-30)" text-anchor="middle" dominant-baseline="central" font-size="16.2" fill="#000" stroke="#000" stroke-width="0.3">StageIII</text>
<text transform="translate(241.8 2219.4) rotate(-30)" text-anchor="middle" dominant-baseline="central" font-size="16.2" fill="#444" stroke="#444" stroke-width="0.3">Stage IV</text>
<text x="296.4" y="2011.6" font-size="17.42" fill="#000" textLength="155.7" lengthAdjust="spacingAndGlyphs" stroke="#000" stroke-width="0.3">Average Expression</text>
<rect x="296.4" y="2021.8" width="19" height="97.5" fill="url(#grad)"/>
<path d="M296.4 2043.9h4M311.4 2043.9h4" stroke="#fff" stroke-opacity="0.6" stroke-width="1"/>
<text x="324.6" y="2049.2" font-size="14.81" fill="#000" stroke="#000" stroke-width="0.3">0.4</text>
<path d="M296.4 2071.1h4M311.4 2071.1h4" stroke="#fff" stroke-opacity="0.6" stroke-width="1"/>
<text x="324.6" y="2076.4" font-size="14.81" fill="#000" stroke="#000" stroke-width="0.3">0.0</text>
<path d="M296.4 2098.9h4M311.4 2098.9h4" stroke="#fff" stroke-opacity="0.6" stroke-width="1"/>
<text x="324.6" y="2104.2" font-size="14.81" fill="#000" stroke="#000" stroke-width="0.3">−0.4</text>
<text x="296.4" y="2151" font-size="17.42" fill="#000" textLength="147.2" lengthAdjust="spacingAndGlyphs" stroke="#000" stroke-width="0.3">Percent Expressed</text>
<circle cx="305.9" cy="2172.4" r="2.5" fill="#000"/>
<text x="324.6" y="2177.7" font-size="14.81" fill="#000" stroke="#000" stroke-width="0.3">7.80</text>
<circle cx="305.9" cy="2191.7" r="4" fill="#000"/>
<text x="324.6" y="2197" font-size="14.81" fill="#000" stroke="#000" stroke-width="0.3">7.85</text>
<circle cx="305.9" cy="2211.1" r="5.5" fill="#000"/>
<text x="324.6" y="2216.4" font-size="14.81" fill="#000" stroke="#000" stroke-width="0.3">7.90</text>
<circle cx="305.9" cy="2230.1" r="7" fill="#000"/>
<text x="324.6" y="2235.4" font-size="14.81" fill="#000" stroke="#000" stroke-width="0.3">7.95</text>
<circle cx="305.9" cy="2249.5" r="8.5" fill="#000"/>
<text x="324.6" y="2254.8" font-size="14.81" fill="#000" stroke="#000" stroke-width="0.3">8.00</text>
<text transform="translate(545.5 1995.6) scale(0.95 1)" font-size="50" fill="#000" stroke="#000" stroke-width="0.7">O</text>
<text x="646.4" y="1989.5" font-size="23.4" fill="#000" textLength="185.6" lengthAdjust="spacingAndGlyphs" stroke="#000" stroke-width="0.3">Lung cancer-Treg</text>
<path d="M620.3 2067.7V2200.2H808.9" fill="none" stroke="#1a1a1a" stroke-width="1.6"/>
<path d="M615.8 2133.9H620.3" stroke="#333" stroke-width="1.3"/>
<path d="M655.3 2200.2v4.8" stroke="#333" stroke-width="1.3"/>
<circle cx="655.3" cy="2133.9" r="2.0" fill="#d0d0d0"/>
<path d="M713.7 2200.2v4.8" stroke="#333" stroke-width="1.3"/>
<circle cx="713.7" cy="2133.9" r="1.5" fill="#d3d3d3"/>
<path d="M772.9 2200.2v4.8" stroke="#333" stroke-width="1.3"/>
<circle cx="772.9" cy="2133.9" r="9.5" fill="#0000ff"/>
<text transform="translate(610.1 2138) rotate(-90)" text-anchor="middle" font-size="17.27" fill="#000" textLength="59.5" lengthAdjust="spacingAndGlyphs" stroke="#000" stroke-width="0.3">FBXW7</text>
<text transform="translate(650.9 2227.2) rotate(-30)" text-anchor="middle" dominant-baseline="central" font-size="16.2" fill="#000" stroke="#000" stroke-width="0.3">StageI_II</text>
<text transform="translate(709.3 2227.2) rotate(-30)" text-anchor="middle" dominant-baseline="central" font-size="16.2" fill="#000" stroke="#000" stroke-width="0.3">StageIII</text>
<text transform="translate(768.5 2227.2) rotate(-30)" text-anchor="middle" dominant-baseline="central" font-size="16.2" fill="#000" stroke="#000" stroke-width="0.3">StageIV</text>
<text x="826.9" y="2023.5" font-size="18.06" fill="#000" textLength="162.1" lengthAdjust="spacingAndGlyphs" stroke="#000" stroke-width="0.3">Average Expression</text>
<rect x="826.9" y="2035.4" width="20.1" height="100.2" fill="url(#grad)"/>
<path d="M826.9 2044.9h4M843 2044.9h4" stroke="#fff" stroke-opacity="0.6" stroke-width="1"/>
<text x="856.5" y="2050.4" font-size="15.35" fill="#000" stroke="#000" stroke-width="0.3">1.0</text>
<path d="M826.9 2072.8h4M843 2072.8h4" stroke="#fff" stroke-opacity="0.6" stroke-width="1"/>
<text x="856.5" y="2078.3" font-size="15.35" fill="#000" stroke="#000" stroke-width="0.3">0.5</text>
<path d="M826.9 2100.6h4M843 2100.6h4" stroke="#fff" stroke-opacity="0.6" stroke-width="1"/>
<text x="856.5" y="2106.1" font-size="15.35" fill="#000" stroke="#000" stroke-width="0.3">0.0</text>
<path d="M826.9 2128.8h4M843 2128.8h4" stroke="#fff" stroke-opacity="0.6" stroke-width="1"/>
<text x="856.5" y="2134.3" font-size="15.35" fill="#000" stroke="#000" stroke-width="0.3">−0.5</text>
<text x="828.6" y="2160.5" font-size="18.06" fill="#000" textLength="152.6" lengthAdjust="spacingAndGlyphs" stroke="#000" stroke-width="0.3">Percent Expressed</text>
<circle cx="838.5" cy="2182.2" r="2" fill="#000"/>
<text x="858.2" y="2187.7" font-size="15.35" fill="#000" stroke="#000" stroke-width="0.3">8</text>
<circle cx="838.5" cy="2202.6" r="4" fill="#000"/>
<text x="858.2" y="2208.1" font-size="15.35" fill="#000" stroke="#000" stroke-width="0.3">10</text>
<circle cx="838.5" cy="2222.3" r="6" fill="#000"/>
<text x="858.2" y="2227.8" font-size="15.35" fill="#000" stroke="#000" stroke-width="0.3">12</text>
<circle cx="838.5" cy="2243.4" r="8.5" fill="#000"/>
<text x="858.2" y="2248.9" font-size="15.35" fill="#000" stroke="#000" stroke-width="0.3">14</text>
<text transform="translate(1058.3 1994.6) scale(0.95 1)" font-size="50" fill="#000" stroke="#000" stroke-width="0.7">P</text>
<text x="1155.5" y="1979.3" font-size="23.4" fill="#000" textLength="217.5" lengthAdjust="spacingAndGlyphs" stroke="#000" stroke-width="0.3">Lung cancer-Myeloid</text>
<path d="M1141.9 2059.2V2185.6H1339" fill="none" stroke="#1a1a1a" stroke-width="1.6"/>
<path d="M1137.4 2122.7H1141.9" stroke="#333" stroke-width="1.3"/>
<path d="M1179.3 2185.6v4.8" stroke="#333" stroke-width="1.3"/>
<ellipse cx="1179.3" cy="2122.7" rx="10" ry="8.7" fill="#d3d3d3"/>
<path d="M1240.5 2185.6v4.8" stroke="#333" stroke-width="1.3"/>
<circle cx="1240.5" cy="2122.7" r="1.0" fill="#8a60f1"/>
<path d="M1302.3 2185.6v4.8" stroke="#333" stroke-width="1.3"/>
<ellipse cx="1302.3" cy="2122.7" rx="6" ry="5.5" fill="#0000ff"/>
<text transform="translate(1131.3 2125.4) rotate(-90)" text-anchor="middle" font-size="16.78" fill="#000" textLength="57.8" lengthAdjust="spacingAndGlyphs" stroke="#000" stroke-width="0.3">FBXW7</text>
<text transform="translate(1180 2212.6) rotate(-30)" text-anchor="middle" dominant-baseline="central" font-size="16.2" fill="#000" stroke="#000" stroke-width="0.3">StageI_II</text>
<text transform="translate(1241.2 2212.6) rotate(-30)" text-anchor="middle" dominant-baseline="central" font-size="16.2" fill="#000" stroke="#000" stroke-width="0.3">StageIII</text>
<text transform="translate(1303 2212.6) rotate(-30)" text-anchor="middle" dominant-baseline="central" font-size="16.2" fill="#000" stroke="#000" stroke-width="0.3">StageIV</text>
<text x="1358.4" y="1998" font-size="18.99" fill="#000" textLength="169.3" lengthAdjust="spacingAndGlyphs" stroke="#000" stroke-width="0.3">Average Expression</text>
<rect x="1358.4" y="2008.9" width="21.1" height="96.8" fill="url(#grad)"/>
<path d="M1358.4 2011.6h4M1375.5 2011.6h4" stroke="#fff" stroke-opacity="0.6" stroke-width="1"/>
<text x="1389" y="2017.4" font-size="16.14" fill="#000" stroke="#000" stroke-width="0.3">1.0</text>
<path d="M1358.4 2035.4h4M1375.5 2035.4h4" stroke="#fff" stroke-opacity="0.6" stroke-width="1"/>
<text x="1389" y="2041.2" font-size="16.14" fill="#000" stroke="#000" stroke-width="0.3">0.5</text>
<path d="M1358.4 2059.2h4M1375.5 2059.2h4" stroke="#fff" stroke-opacity="0.6" stroke-width="1"/>
<text x="1389" y="2065" font-size="16.14" fill="#000" stroke="#000" stroke-width="0.3">0.0</text>
<path d="M1358.4 2083h4M1375.5 2083h4" stroke="#fff" stroke-opacity="0.6" stroke-width="1"/>
<text x="1389" y="2088.8" font-size="16.14" fill="#000" stroke="#000" stroke-width="0.3">−0.5</text>
<text x="1361.1" y="2138" font-size="18.99" fill="#000" textLength="160.4" lengthAdjust="spacingAndGlyphs" stroke="#000" stroke-width="0.3">Percent Expressed</text>
<circle cx="1372.7" cy="2158.4" r="1.5" fill="#000"/>
<text x="1394.1" y="2164.2" font-size="16.14" fill="#000" stroke="#000" stroke-width="0.3">11.0</text>
<circle cx="1372.7" cy="2178.1" r="3" fill="#000"/>
<text x="1394.1" y="2183.9" font-size="16.14" fill="#000" stroke="#000" stroke-width="0.3">11.5</text>
<circle cx="1372.7" cy="2196.8" r="4.2" fill="#000"/>
<text x="1394.1" y="2202.6" font-size="16.14" fill="#000" stroke="#000" stroke-width="0.3">12.0</text>
<circle cx="1372.7" cy="2216.2" r="5.5" fill="#000"/>
<text x="1394.1" y="2222" font-size="16.14" fill="#000" stroke="#000" stroke-width="0.3">12.5</text>
<circle cx="1372.7" cy="2235.2" r="7" fill="#000"/>
<text x="1394.1" y="2241" font-size="16.14" fill="#000" stroke="#000" stroke-width="0.3">13.0</text>
<circle cx="1372.7" cy="2255.3" r="9" fill="#000"/>
<text x="1394.1" y="2261.1" font-size="16.14" fill="#000" stroke="#000" stroke-width="0.3">13.5</text>
</svg></body></html>
